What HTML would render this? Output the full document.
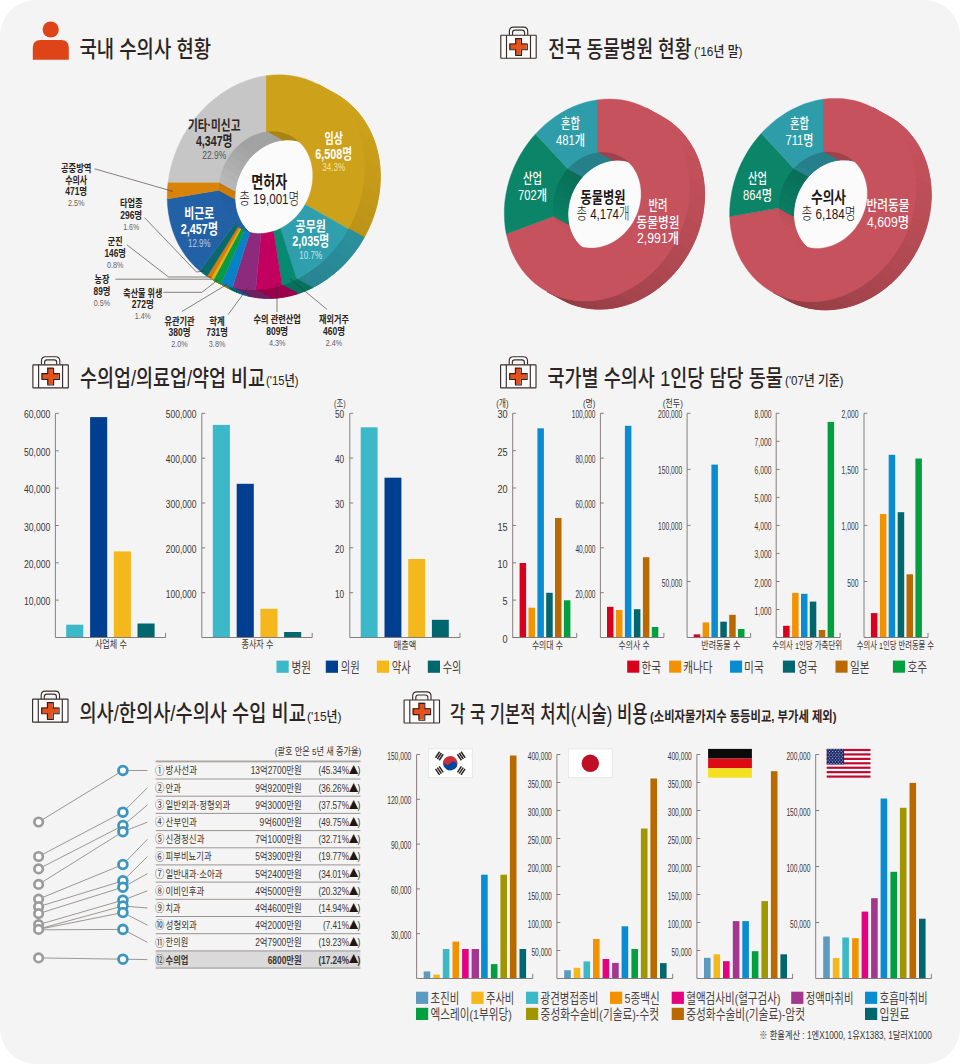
<!DOCTYPE html>
<html lang="ko"><head><meta charset="utf-8"><title>수의사 현황 인포그래픽</title>
<style>
html,body{margin:0;padding:0;background:#fff}
svg{display:block}
text{font-family:"Liberation Sans","Noto Sans CJK KR",sans-serif}
</style></head><body>
<svg width="960" height="1064" viewBox="0 0 960 1064">
<rect x="0" y="0" width="960" height="1064" rx="36" ry="36" fill="#f4f4f4"/>
<circle cx="50.7" cy="29.5" r="8.1" fill="#df4418"/>
<path d="M32.8,59.7 V47.5 Q32.8,40 40.3,40 H61.3 Q68.8,40 68.8,47.5 V59.7 Z" fill="#df4418"/>
<text x="79.5" y="56.8" font-size="22.3" font-weight="500" fill="#2b2422" text-anchor="start" textLength="131.5" lengthAdjust="spacingAndGlyphs">국내 수의사 현황</text>
<g transform="translate(500.2,34.6)" fill="none" stroke="#3a2e2b" stroke-width="1.15">
<path d="M9.2,0.6 V-3.4 Q9.2,-7.5 13.3,-7.5 H23.4 Q27.5,-7.5 27.5,-3.4 V0.6" fill="#fff"/>
<path d="M12.3,0.6 V-2.0 Q12.3,-4.4 14.7,-4.4 H22.0 Q24.4,-4.4 24.4,-2.0 V0.6" fill="#f3f3f3"/>
<rect x="0.6" y="0.6" width="35.4" height="23" rx="0.4" fill="#fcfcfc"/>
<path d="M6.3,0.6 V23.6 M30.3,0.6 V23.6"/>
<path d="M15.5,4.0 h5.8 v5.4 h5.8 v5.8 h-5.8 v5.6 h-5.8 v-5.6 h-5.8 v-5.8 h5.8 z" fill="#e8501a" stroke="none" transform="translate(-0.7,-0.6)"/>
<path d="M15.5,4.0 h5.8 v5.4 h5.8 v5.8 h-5.8 v5.6 h-5.8 v-5.6 h-5.8 v-5.8 h5.8 z" fill="none" stroke="#2a2022" stroke-width="1.1"/>
</g>
<text x="548.3" y="56.8" font-size="22.3" font-weight="500" fill="#2b2422" text-anchor="start" textLength="143.0" lengthAdjust="spacingAndGlyphs">전국 동물병원 현황</text>
<text x="694.0" y="55.8" font-size="13.6" font-weight="500" fill="#2b2422" text-anchor="start" textLength="48.5" lengthAdjust="spacingAndGlyphs">('16년 말)</text>
<g transform="translate(32.3,364.2)" fill="none" stroke="#3a2e2b" stroke-width="1.15">
<path d="M9.2,0.6 V-3.4 Q9.2,-7.5 13.3,-7.5 H23.4 Q27.5,-7.5 27.5,-3.4 V0.6" fill="#fff"/>
<path d="M12.3,0.6 V-2.0 Q12.3,-4.4 14.7,-4.4 H22.0 Q24.4,-4.4 24.4,-2.0 V0.6" fill="#f3f3f3"/>
<rect x="0.6" y="0.6" width="35.4" height="23" rx="0.4" fill="#fcfcfc"/>
<path d="M6.3,0.6 V23.6 M30.3,0.6 V23.6"/>
<path d="M15.5,4.0 h5.8 v5.4 h5.8 v5.8 h-5.8 v5.6 h-5.8 v-5.6 h-5.8 v-5.8 h5.8 z" fill="#e8501a" stroke="none" transform="translate(-0.7,-0.6)"/>
<path d="M15.5,4.0 h5.8 v5.4 h5.8 v5.8 h-5.8 v5.6 h-5.8 v-5.6 h-5.8 v-5.8 h5.8 z" fill="none" stroke="#2a2022" stroke-width="1.1"/>
</g>
<text x="80.0" y="385.9" font-size="22.3" font-weight="500" fill="#2b2422" text-anchor="start" textLength="185.0" lengthAdjust="spacingAndGlyphs">수의업/의료업/약업 비교</text>
<text x="266.0" y="385.2" font-size="13.6" font-weight="500" fill="#2b2422" text-anchor="start" textLength="32.5" lengthAdjust="spacingAndGlyphs">('15년)</text>
<g transform="translate(500.0,364.2)" fill="none" stroke="#3a2e2b" stroke-width="1.15">
<path d="M9.2,0.6 V-3.4 Q9.2,-7.5 13.3,-7.5 H23.4 Q27.5,-7.5 27.5,-3.4 V0.6" fill="#fff"/>
<path d="M12.3,0.6 V-2.0 Q12.3,-4.4 14.7,-4.4 H22.0 Q24.4,-4.4 24.4,-2.0 V0.6" fill="#f3f3f3"/>
<rect x="0.6" y="0.6" width="35.4" height="23" rx="0.4" fill="#fcfcfc"/>
<path d="M6.3,0.6 V23.6 M30.3,0.6 V23.6"/>
<path d="M15.5,4.0 h5.8 v5.4 h5.8 v5.8 h-5.8 v5.6 h-5.8 v-5.6 h-5.8 v-5.8 h5.8 z" fill="#e8501a" stroke="none" transform="translate(-0.7,-0.6)"/>
<path d="M15.5,4.0 h5.8 v5.4 h5.8 v5.8 h-5.8 v5.6 h-5.8 v-5.6 h-5.8 v-5.8 h5.8 z" fill="none" stroke="#2a2022" stroke-width="1.1"/>
</g>
<text x="547.4" y="386.2" font-size="22.3" font-weight="500" fill="#2b2422" text-anchor="start" textLength="235.5" lengthAdjust="spacingAndGlyphs">국가별 수의사 1인당 담당 동물</text>
<text x="785.0" y="385.2" font-size="13.6" font-weight="500" fill="#2b2422" text-anchor="start" textLength="58.5" lengthAdjust="spacingAndGlyphs">('07년 기준)</text>
<g transform="translate(32.0,698.6)" fill="none" stroke="#3a2e2b" stroke-width="1.15">
<path d="M9.2,0.6 V-3.4 Q9.2,-7.5 13.3,-7.5 H23.4 Q27.5,-7.5 27.5,-3.4 V0.6" fill="#fff"/>
<path d="M12.3,0.6 V-2.0 Q12.3,-4.4 14.7,-4.4 H22.0 Q24.4,-4.4 24.4,-2.0 V0.6" fill="#f3f3f3"/>
<rect x="0.6" y="0.6" width="35.4" height="23" rx="0.4" fill="#fcfcfc"/>
<path d="M6.3,0.6 V23.6 M30.3,0.6 V23.6"/>
<path d="M15.5,4.0 h5.8 v5.4 h5.8 v5.8 h-5.8 v5.6 h-5.8 v-5.6 h-5.8 v-5.8 h5.8 z" fill="#e8501a" stroke="none" transform="translate(-0.7,-0.6)"/>
<path d="M15.5,4.0 h5.8 v5.4 h5.8 v5.8 h-5.8 v5.6 h-5.8 v-5.6 h-5.8 v-5.8 h5.8 z" fill="none" stroke="#2a2022" stroke-width="1.1"/>
</g>
<text x="79.4" y="721.4" font-size="22.3" font-weight="500" fill="#2b2422" text-anchor="start" textLength="226.5" lengthAdjust="spacingAndGlyphs">의사/한의사/수의사 수입 비교</text>
<text x="307.0" y="720.7" font-size="13.6" font-weight="500" fill="#2b2422" text-anchor="start" textLength="34.5" lengthAdjust="spacingAndGlyphs">('15년)</text>
<g transform="translate(403.5,699.4)" fill="none" stroke="#3a2e2b" stroke-width="1.15">
<path d="M9.2,0.6 V-3.4 Q9.2,-7.5 13.3,-7.5 H23.4 Q27.5,-7.5 27.5,-3.4 V0.6" fill="#fff"/>
<path d="M12.3,0.6 V-2.0 Q12.3,-4.4 14.7,-4.4 H22.0 Q24.4,-4.4 24.4,-2.0 V0.6" fill="#f3f3f3"/>
<rect x="0.6" y="0.6" width="35.4" height="23" rx="0.4" fill="#fcfcfc"/>
<path d="M6.3,0.6 V23.6 M30.3,0.6 V23.6"/>
<path d="M15.5,4.0 h5.8 v5.4 h5.8 v5.8 h-5.8 v5.6 h-5.8 v-5.6 h-5.8 v-5.8 h5.8 z" fill="#e8501a" stroke="none" transform="translate(-0.7,-0.6)"/>
<path d="M15.5,4.0 h5.8 v5.4 h5.8 v5.8 h-5.8 v5.6 h-5.8 v-5.6 h-5.8 v-5.8 h5.8 z" fill="none" stroke="#2a2022" stroke-width="1.1"/>
</g>
<text x="450.0" y="721.8" font-size="22.3" font-weight="500" fill="#2b2422" text-anchor="start" textLength="197.5" lengthAdjust="spacingAndGlyphs">각 국 기본적 처치(시술) 비용</text>
<text x="650.0" y="721.2" font-size="13.4" font-weight="700" fill="#2b2422" text-anchor="start" textLength="186.5" lengthAdjust="spacingAndGlyphs">(소비자물가지수 동등비교, 부가세 제외)</text>
<g stroke-width="0.5" stroke-linejoin="round">
<path d="M291.1,135.9 L294.4,137.9 L297.6,140.3 L300.5,143.0 L303.1,146.0 L305.4,149.3 L307.5,152.8 L309.2,156.6 L310.6,160.6 L311.7,164.7 L312.4,168.9 L312.8,173.3 L312.8,177.7 L312.4,182.2 L311.7,186.6 L310.6,191.1 L309.2,195.4 L307.5,199.7 L305.5,203.8 L303.1,207.8 L300.5,211.5 L297.6,215.1 L294.5,218.4 L291.1,221.4 L287.6,224.1 L283.8,226.6 L280.0,228.6 L276.0,230.3 L272.0,231.7 L267.9,232.7 L263.8,233.3 L259.7,233.5 L255.7,233.3 L251.8,232.7 L247.9,231.8 L244.2,230.4 L240.6,228.7 L237.3,226.7 L234.1,224.3 L231.2,221.6 L228.6,218.6 L226.3,215.3 L224.2,211.8 L222.5,208.0 L221.1,204.0 L220.0,199.9 L219.3,195.7 L218.9,191.3 L218.9,186.9 L219.3,182.4 L220.0,178.0 L221.1,173.5 L222.5,169.2 L224.2,164.9 L226.2,160.8 L228.6,156.8 L231.2,153.1 L234.1,149.5 L237.2,146.2 L240.6,143.2 L244.1,140.5 L247.9,138.0 L251.7,136.0 L255.7,134.3 L259.7,132.9 L263.8,131.9 L267.9,131.3 L272.0,131.1 L276.0,131.3 L279.9,131.9 L283.8,132.8 L287.5,134.2Z" fill="#fbfbfb" stroke="none"/>
<path d="M318.8,84.8 L325.6,88.9 L331.9,93.6 L337.8,99.0 L343.2,104.9 L348.0,111.4 L352.3,118.4 L355.9,125.8 L359.0,133.7 L361.4,141.8 L363.1,150.3 L364.1,158.9 L364.5,167.7 L364.2,176.7 L363.2,185.6 L361.5,194.6 L359.1,203.4 L356.1,212.2 L352.5,220.7 L348.3,228.9 L364.1,237.5 L368.3,229.2 L372.0,220.7 L375.0,212.0 L377.3,203.2 L379.0,194.2 L380.0,185.3 L380.3,176.3 L380.0,167.5 L378.9,158.8 L377.2,150.4 L374.8,142.2 L371.7,134.4 L368.1,127.0 L363.8,120.0 L359.0,113.5 L353.6,107.6 L347.7,102.2 L341.4,97.4 L334.6,93.3Z" fill="#c99e19" stroke="#c99e19" stroke-width="0.8"/>
<path d="M318.8,84.8 L324.1,87.9 L329.2,91.5 L345.0,100.1 L340.0,96.5 L334.6,93.3Z" fill="#d0a41a" stroke="#d0a41a"/>
<path d="M329.2,91.5 L334.0,95.4 L338.5,99.8 L354.4,108.4 L349.9,104.0 L345.0,100.1Z" fill="#d0a31a" stroke="#d0a31a"/>
<path d="M338.5,99.8 L342.8,104.5 L346.6,109.5 L362.5,118.1 L358.6,113.0 L354.4,108.4Z" fill="#cfa21a" stroke="#cfa21a"/>
<path d="M346.6,109.5 L350.2,114.8 L353.3,120.4 L369.1,129.0 L366.0,123.4 L362.5,118.1Z" fill="#cda11a" stroke="#cda11a"/>
<path d="M353.3,120.4 L356.1,126.3 L358.5,132.4 L374.4,141.0 L371.9,134.9 L369.1,129.0Z" fill="#cca019" stroke="#cca019"/>
<path d="M358.5,132.4 L360.5,138.8 L362.1,145.3 L378.0,153.9 L376.4,147.3 L374.4,141.0Z" fill="#ca9e19" stroke="#ca9e19"/>
<path d="M362.1,145.3 L363.3,152.0 L364.1,158.8 L379.9,167.4 L379.2,160.5 L378.0,153.9Z" fill="#c89d19" stroke="#c89d19"/>
<path d="M364.1,158.8 L364.5,165.7 L364.4,172.7 L380.2,181.2 L380.3,174.3 L379.9,167.4Z" fill="#c69b19" stroke="#c69b19"/>
<path d="M364.4,172.7 L363.9,179.7 L363.0,186.7 L378.8,195.3 L379.7,188.3 L380.2,181.2Z" fill="#c49a18" stroke="#c49a18"/>
<path d="M363.0,186.7 L361.7,193.7 L359.9,200.7 L375.8,209.3 L377.5,202.3 L378.8,195.3Z" fill="#c19818" stroke="#c19818"/>
<path d="M359.9,200.7 L357.8,207.6 L355.3,214.4 L371.1,223.0 L373.6,216.2 L375.8,209.3Z" fill="#bf9618" stroke="#bf9618"/>
<path d="M355.3,214.4 L352.4,221.0 L349.1,227.5 L364.9,236.1 L368.2,229.6 L371.1,223.0Z" fill="#bc9417" stroke="#bc9417"/>
<path d="M349.1,227.5 L348.7,228.2 L348.3,228.9 L364.1,237.5 L364.5,236.8 L364.9,236.1Z" fill="#b99217" stroke="#b99217"/>
<path d="M348.3,228.9 L343.5,236.9 L338.1,244.5 L332.2,251.6 L325.8,258.3 L319.0,264.4 L311.8,269.9 L304.3,274.9 L296.6,279.1 L312.4,287.7 L320.2,283.4 L327.6,278.5 L334.8,273.0 L341.6,266.9 L348.0,260.2 L353.9,253.0 L359.3,245.5 L364.1,237.5Z" fill="#298b97" stroke="#298b97" stroke-width="0.8"/>
<path d="M348.3,228.9 L345.0,234.5 L341.4,239.8 L357.3,248.4 L360.8,243.0 L364.1,237.5Z" fill="#2a909c" stroke="#2a909c"/>
<path d="M341.4,239.8 L337.1,245.6 L332.5,251.2 L348.3,259.8 L353.0,254.2 L357.3,248.4Z" fill="#298e9a" stroke="#298e9a"/>
<path d="M332.5,251.2 L327.6,256.4 L322.5,261.4 L338.3,270.0 L343.5,265.0 L348.3,259.8Z" fill="#298b98" stroke="#298b98"/>
<path d="M322.5,261.4 L317.1,266.0 L311.4,270.2 L327.3,278.8 L332.9,274.6 L338.3,270.0Z" fill="#288995" stroke="#288995"/>
<path d="M311.4,270.2 L305.6,274.1 L299.6,277.5 L315.5,286.1 L321.4,282.7 L327.3,278.8Z" fill="#278692" stroke="#278692"/>
<path d="M299.6,277.5 L298.1,278.3 L296.6,279.1 L312.4,287.7 L313.9,286.9 L315.5,286.1Z" fill="#278490" stroke="#278490"/>
<path d="M296.6,279.1 L289.4,282.4 L282.0,285.1 L297.8,293.7 L305.2,291.0 L312.4,287.7Z" fill="#05725e" stroke="#05725e" stroke-width="0.8"/>
<path d="M296.6,279.1 L291.9,281.3 L287.2,283.2 L303.1,291.8 L307.8,289.9 L312.4,287.7Z" fill="#05725e" stroke="#05725e"/>
<path d="M287.2,283.2 L284.6,284.2 L282.0,285.1 L297.8,293.7 L300.5,292.8 L303.1,291.8Z" fill="#05705d" stroke="#05705d"/>
<path d="M282.0,285.1 L275.5,287.0 L268.9,288.4 L262.3,289.3 L255.7,289.8 L271.5,298.3 L278.1,297.9 L284.7,297.0 L291.3,295.5 L297.8,293.7Z" fill="#9a004c" stroke="#9a004c" stroke-width="0.8"/>
<path d="M282.0,285.1 L278.3,286.2 L274.5,287.2 L290.3,295.8 L294.1,294.8 L297.8,293.7Z" fill="#9d004e" stroke="#9d004e"/>
<path d="M274.5,287.2 L268.0,288.5 L261.6,289.4 L277.4,298.0 L283.9,297.1 L290.3,295.8Z" fill="#9a004c" stroke="#9a004c"/>
<path d="M261.6,289.4 L258.6,289.6 L255.7,289.8 L271.5,298.3 L274.5,298.2 L277.4,298.0Z" fill="#97004b" stroke="#97004b"/>
<path d="M255.7,289.8 L247.8,289.7 L240.1,288.9 L232.5,287.4 L248.3,296.0 L255.9,297.5 L263.7,298.3 L271.5,298.3Z" fill="#6c2060" stroke="#6c2060" stroke-width="0.8"/>
<path d="M255.7,289.8 L252.2,289.8 L248.8,289.7 L264.6,298.3 L268.0,298.4 L271.5,298.3Z" fill="#6e2062" stroke="#6e2062"/>
<path d="M248.8,289.7 L242.4,289.2 L236.2,288.2 L252.0,296.8 L258.3,297.8 L264.6,298.3Z" fill="#6b2060" stroke="#6b2060"/>
<path d="M236.2,288.2 L234.4,287.8 L232.5,287.4 L248.3,296.0 L250.2,296.4 L252.0,296.8Z" fill="#691f5e" stroke="#691f5e"/>
<path d="M232.5,287.4 L226.7,285.8 L221.1,283.7 L237.0,292.3 L242.6,294.4 L248.3,296.0Z" fill="#065f93" stroke="#065f93" stroke-width="0.8"/>
<path d="M232.5,287.4 L228.3,286.3 L224.2,284.9 L240.0,293.5 L244.1,294.9 L248.3,296.0Z" fill="#066094" stroke="#066094"/>
<path d="M224.2,284.9 L222.7,284.3 L221.1,283.7 L237.0,292.3 L238.5,292.9 L240.0,293.5Z" fill="#065e90" stroke="#065e90"/>
<path d="M221.1,283.7 L217.2,282.0 L213.4,280.1 L229.2,288.7 L233.1,290.6 L237.0,292.3Z" fill="#057032" stroke="#057032" stroke-width="0.8"/>
<path d="M221.1,283.7 L217.2,282.0 L213.4,280.1 L229.2,288.7 L233.1,290.6 L237.0,292.3Z" fill="#057032" stroke="#057032"/>
<path d="M213.4,280.1 L213.2,280.0 L212.9,279.8 L228.7,288.4 L229.0,288.6 L229.2,288.7Z" fill="#a28100" stroke="#a28100" stroke-width="0.8"/>
<path d="M213.4,280.1 L213.2,280.0 L212.9,279.8 L228.7,288.4 L229.0,288.6 L229.2,288.7Z" fill="#a48300" stroke="#a48300"/>
<path d="M265.9,131.6 L269.6,131.2 L273.4,131.1 L277.1,131.4 L280.8,132.1 L284.3,133.0 L287.8,134.3 L291.1,135.9 L306.9,144.5 L303.6,142.9 L300.2,141.6 L296.6,140.6 L293.0,140.0 L289.2,139.7 L285.5,139.8 L281.7,140.2Z" fill="#a88415" stroke="#a88415" stroke-width="0.8"/>
<path d="M265.9,131.6 L266.9,131.4 L267.9,131.3 L283.7,139.9 L282.7,140.0 L281.7,140.2Z" fill="#a88415" stroke="#a88415"/>
<path d="M267.9,131.3 L270.9,131.1 L274.0,131.2 L289.8,139.8 L286.8,139.7 L283.7,139.9Z" fill="#a88415" stroke="#a88415"/>
<path d="M274.0,131.2 L277.0,131.4 L279.9,131.9 L295.8,140.5 L292.8,140.0 L289.8,139.8Z" fill="#a88415" stroke="#a88415"/>
<path d="M279.9,131.9 L282.8,132.6 L285.7,133.5 L301.5,142.0 L298.7,141.2 L295.8,140.5Z" fill="#a88415" stroke="#a88415"/>
<path d="M285.7,133.5 L288.4,134.6 L291.1,135.9 L306.9,144.5 L304.2,143.1 L301.5,142.0Z" fill="#a88415" stroke="#a88415"/>
<path d="M240.6,228.7 L240.2,228.5 L239.7,228.2 L255.6,236.8 L256.0,237.1 L256.5,237.3Z" fill="#e2b400" stroke="#e2b400" stroke-width="0.8"/>
<path d="M240.6,228.7 L240.2,228.5 L239.7,228.2 L255.6,236.8 L256.0,237.1 L256.5,237.3Z" fill="#e2b400" stroke="#e2b400"/>
<path d="M239.7,228.2 L238.8,227.7 L237.9,227.1 L253.7,235.7 L254.6,236.3 L255.6,236.8Z" fill="#d57c0a" stroke="#d57c0a" stroke-width="0.8"/>
<path d="M239.7,228.2 L238.8,227.7 L237.9,227.1 L253.7,235.7 L254.6,236.3 L255.6,236.8Z" fill="#d57c0a" stroke="#d57c0a"/>
<path d="M237.9,227.1 L236.1,225.8 L234.3,224.4 L250.1,233.0 L251.9,234.4 L253.7,235.7Z" fill="#08696f" stroke="#08696f" stroke-width="0.8"/>
<path d="M237.9,227.1 L236.8,226.3 L235.7,225.5 L251.5,234.1 L252.6,234.9 L253.7,235.7Z" fill="#08696f" stroke="#08696f"/>
<path d="M235.7,225.5 L235.0,225.0 L234.3,224.4 L250.1,233.0 L250.8,233.6 L251.5,234.1Z" fill="#08696f" stroke="#08696f"/>
<path d="M234.3,224.4 L231.6,222.0 L229.1,219.2 L226.9,216.2 L224.9,213.0 L223.1,209.6 L221.7,205.9 L220.5,202.2 L219.7,198.3 L219.1,194.3 L218.9,190.2 L234.7,198.8 L235.0,202.9 L235.5,206.9 L236.4,210.8 L237.5,214.5 L239.0,218.1 L240.7,221.6 L242.7,224.8 L244.9,227.8 L247.4,230.5 L250.1,233.0Z" fill="#2361a7" stroke="#2361a7" stroke-width="0.8"/>
<path d="M234.3,224.4 L232.8,223.1 L231.2,221.6 L247.1,230.2 L248.6,231.6 L250.1,233.0Z" fill="#2361a7" stroke="#2361a7"/>
<path d="M231.2,221.6 L229.2,219.4 L227.4,217.0 L243.2,225.6 L245.1,227.9 L247.1,230.2Z" fill="#2361a7" stroke="#2361a7"/>
<path d="M227.4,217.0 L225.7,214.4 L224.2,211.8 L240.0,220.3 L241.5,223.0 L243.2,225.6Z" fill="#2361a7" stroke="#2361a7"/>
<path d="M224.2,211.8 L222.9,209.0 L221.7,206.0 L237.6,214.6 L238.7,217.5 L240.0,220.3Z" fill="#2361a7" stroke="#2361a7"/>
<path d="M221.7,206.0 L220.8,203.0 L220.0,199.9 L235.8,208.5 L236.6,211.6 L237.6,214.6Z" fill="#225fa5" stroke="#225fa5"/>
<path d="M220.0,199.9 L219.4,196.7 L219.1,193.5 L234.9,202.1 L235.3,205.3 L235.8,208.5Z" fill="#225ea2" stroke="#225ea2"/>
<path d="M219.1,193.5 L219.0,191.9 L218.9,190.2 L234.7,198.8 L234.8,200.5 L234.9,202.1Z" fill="#215c9f" stroke="#215c9f"/>
<path d="M218.9,190.2 L219.0,186.3 L219.3,182.3 L235.1,190.9 L234.8,194.9 L234.7,198.8Z" fill="#cd7b08" stroke="#cd7b08" stroke-width="0.8"/>
<path d="M218.9,190.2 L218.9,188.6 L218.9,186.9 L234.8,195.5 L234.7,197.1 L234.7,198.8Z" fill="#cf7d08" stroke="#cf7d08"/>
<path d="M218.9,186.9 L219.1,184.6 L219.3,182.3 L235.1,190.9 L234.9,193.2 L234.8,195.5Z" fill="#cb7a08" stroke="#cb7a08"/>
<path d="M219.3,182.3 L220.0,178.0 L221.0,173.7 L222.4,169.4 L224.0,165.3 L226.0,161.3 L228.2,157.4 L230.7,153.7 L233.5,150.2 L236.5,147.0 L239.7,144.0 L243.0,141.3 L246.6,138.8 L250.3,136.7 L254.1,134.9 L257.9,133.4 L261.9,132.3 L265.9,131.6 L281.7,140.2 L277.7,140.9 L273.8,142.0 L269.9,143.5 L266.1,145.3 L262.4,147.4 L258.9,149.9 L255.5,152.6 L252.3,155.6 L249.3,158.8 L246.5,162.3 L244.0,166.0 L241.8,169.9 L239.8,173.9 L238.2,178.0 L236.8,182.3 L235.8,186.5 L235.1,190.9Z" fill="#a7a7a7" stroke="#a7a7a7" stroke-width="0.8"/>
<path d="M219.3,182.3 L219.4,181.2 L219.6,180.2 L235.4,188.8 L235.3,189.8 L235.1,190.9Z" fill="#b9b9b9" stroke="#b9b9b9"/>
<path d="M219.6,180.2 L220.2,176.9 L221.1,173.5 L236.9,182.1 L236.1,185.4 L235.4,188.8Z" fill="#b6b6b6" stroke="#b6b6b6"/>
<path d="M221.1,173.5 L222.1,170.3 L223.3,167.0 L239.1,175.6 L237.9,178.9 L236.9,182.1Z" fill="#b3b3b3" stroke="#b3b3b3"/>
<path d="M223.3,167.0 L224.7,163.9 L226.2,160.8 L242.1,169.4 L240.5,172.5 L239.1,175.6Z" fill="#afafaf" stroke="#afafaf"/>
<path d="M226.2,160.8 L228.0,157.8 L229.9,154.9 L245.7,163.5 L243.8,166.4 L242.1,169.4Z" fill="#acacac" stroke="#acacac"/>
<path d="M229.9,154.9 L231.9,152.1 L234.1,149.5 L249.9,158.1 L247.7,160.7 L245.7,163.5Z" fill="#a9a9a9" stroke="#a9a9a9"/>
<path d="M234.1,149.5 L236.4,147.0 L238.9,144.7 L254.7,153.2 L252.3,155.6 L249.9,158.1Z" fill="#a5a5a5" stroke="#a5a5a5"/>
<path d="M238.9,144.7 L241.5,142.5 L244.1,140.5 L260.0,149.0 L257.3,151.1 L254.7,153.2Z" fill="#a2a2a2" stroke="#a2a2a2"/>
<path d="M244.1,140.5 L246.9,138.6 L249.8,137.0 L265.6,145.6 L262.7,147.2 L260.0,149.0Z" fill="#a2a2a2" stroke="#a2a2a2"/>
<path d="M249.8,137.0 L252.7,135.5 L255.7,134.3 L271.5,142.8 L268.5,144.1 L265.6,145.6Z" fill="#a2a2a2" stroke="#a2a2a2"/>
<path d="M255.7,134.3 L258.7,133.2 L261.7,132.4 L277.6,141.0 L274.5,141.8 L271.5,142.8Z" fill="#a2a2a2" stroke="#a2a2a2"/>
<path d="M261.7,132.4 L263.8,131.9 L265.9,131.6 L281.7,140.2 L279.6,140.5 L277.6,141.0Z" fill="#a2a2a2" stroke="#a2a2a2"/>
<path d="M265.9,75.7 L272.7,75.0 L279.5,74.8 L286.2,75.1 L292.9,75.9 L299.4,77.2 L305.8,79.1 L311.9,81.4 L317.9,84.2 L323.6,87.5 L329.0,91.3 L334.1,95.5 L338.8,100.1 L343.3,105.1 L347.3,110.5 L351.0,116.2 L354.2,122.2 L357.1,128.5 L359.5,135.1 L361.4,141.9 L362.9,149.0 L363.9,156.1 L364.4,163.4 L364.5,170.8 L364.1,178.3 L363.2,185.7 L361.8,193.2 L360.0,200.6 L357.7,207.9 L355.0,215.0 L351.9,222.1 L348.3,228.9 L305.1,204.5 L306.8,201.2 L308.3,197.9 L309.6,194.5 L310.7,191.0 L311.5,187.5 L312.2,183.9 L312.6,180.4 L312.8,176.8 L312.8,173.3 L312.5,169.8 L312.0,166.4 L311.3,163.1 L310.4,159.8 L309.3,156.7 L307.9,153.7 L306.4,150.8 L304.6,148.1 L302.7,145.5 L300.6,143.2 L298.3,141.0 L295.9,139.0 L293.3,137.2 L290.6,135.6 L287.8,134.3 L284.8,133.2 L281.8,132.3 L278.7,131.7 L275.6,131.3 L272.3,131.1 L269.1,131.2 L265.9,131.6Z" fill="#cda11a" stroke="#cda11a" stroke-width="0.4"/>
<path d="M348.3,228.9 L344.5,235.3 L340.3,241.5 L335.8,247.4 L330.9,253.0 L325.8,258.3 L320.4,263.2 L314.7,267.8 L308.9,272.0 L302.8,275.8 L296.6,279.1 L280.5,228.4 L283.4,226.8 L286.3,225.0 L289.1,223.0 L291.8,220.8 L294.4,218.5 L296.8,215.9 L299.1,213.3 L301.3,210.5 L303.3,207.5 L305.1,204.5Z" fill="#2f9fad" stroke="#2f9fad" stroke-width="0.4"/>
<path d="M296.6,279.1 L291.8,281.4 L286.9,283.4 L282.0,285.1 L273.5,231.2 L275.9,230.4 L278.2,229.5 L280.5,228.4Z" fill="#078a72" stroke="#078a72" stroke-width="0.4"/>
<path d="M282.0,285.1 L275.5,287.0 L268.9,288.4 L262.3,289.3 L255.7,289.8 L261.0,233.5 L264.2,233.2 L267.3,232.8 L270.4,232.1 L273.5,231.2Z" fill="#c10060" stroke="#c10060" stroke-width="0.4"/>
<path d="M255.7,289.8 L249.8,289.8 L243.9,289.4 L238.2,288.6 L232.5,287.4 L250.0,232.3 L252.7,232.9 L255.4,233.3 L258.2,233.4 L261.0,233.5Z" fill="#8d2a7e" stroke="#8d2a7e" stroke-width="0.4"/>
<path d="M232.5,287.4 L226.7,285.8 L221.1,283.7 L244.6,230.6 L247.2,231.6 L250.0,232.3Z" fill="#0981c6" stroke="#0981c6" stroke-width="0.4"/>
<path d="M221.1,283.7 L217.2,282.0 L213.4,280.1 L240.9,228.9 L242.7,229.8 L244.6,230.6Z" fill="#089a45" stroke="#089a45" stroke-width="0.4"/>
<path d="M213.4,280.1 L212.2,279.5 L211.0,278.8 L239.7,228.2 L240.3,228.6 L240.9,228.9Z" fill="#e2b400" stroke="#e2b400" stroke-width="0.4"/>
<path d="M211.0,278.8 L209.0,277.6 L207.1,276.4 L237.9,227.1 L238.8,227.7 L239.7,228.2Z" fill="#d57c0a" stroke="#d57c0a" stroke-width="0.4"/>
<path d="M207.1,276.4 L203.3,273.7 L199.6,270.8 L234.3,224.4 L236.1,225.8 L237.9,227.1Z" fill="#08696f" stroke="#08696f" stroke-width="0.4"/>
<path d="M199.6,270.8 L194.8,266.5 L190.4,261.8 L186.2,256.7 L182.5,251.3 L179.1,245.6 L176.1,239.6 L173.6,233.3 L171.4,226.7 L169.7,220.0 L168.4,213.1 L167.6,206.1 L167.2,198.9 L218.9,190.2 L219.1,193.6 L219.5,197.0 L220.1,200.3 L220.9,203.5 L221.9,206.6 L223.1,209.6 L224.6,212.4 L226.2,215.1 L228.0,217.7 L229.9,220.1 L232.0,222.4 L234.3,224.4Z" fill="#2361a7" stroke="#2361a7" stroke-width="0.4"/>
<path d="M167.2,198.9 L167.2,193.4 L167.5,187.8 L168.1,182.3 L219.3,182.3 L219.0,184.9 L218.9,187.6 L218.9,190.2Z" fill="#d98309" stroke="#d98309" stroke-width="0.4"/>
<path d="M168.1,182.3 L169.2,174.9 L170.8,167.6 L172.8,160.3 L175.3,153.2 L178.1,146.2 L181.4,139.3 L185.1,132.7 L189.2,126.3 L193.6,120.1 L198.4,114.3 L203.5,108.8 L208.8,103.6 L214.5,98.7 L220.4,94.3 L226.5,90.3 L232.7,86.7 L239.2,83.6 L245.7,80.9 L252.4,78.7 L259.1,77.0 L265.9,75.7 L265.9,131.6 L262.6,132.2 L259.4,133.0 L256.3,134.0 L253.2,135.3 L250.1,136.8 L247.1,138.5 L244.2,140.4 L241.4,142.5 L238.7,144.8 L236.2,147.3 L233.7,149.9 L231.5,152.7 L229.4,155.6 L227.4,158.7 L225.7,161.9 L224.1,165.1 L222.7,168.4 L221.6,171.8 L220.6,175.3 L219.8,178.8 L219.3,182.3Z" fill="#c6c6c6" stroke="#c6c6c6" stroke-width="0.4"/>
</g>
<g stroke-width="0.5" stroke-linejoin="round">
<path d="M620.7,156.4 L623.9,158.3 L626.8,160.6 L629.5,163.1 L632.0,166.0 L634.2,169.0 L636.1,172.4 L637.8,175.9 L639.1,179.6 L640.1,183.5 L640.8,187.5 L641.1,191.6 L641.1,195.7 L640.8,199.9 L640.1,204.1 L639.1,208.3 L637.8,212.4 L636.2,216.4 L634.2,220.3 L632.0,224.0 L629.6,227.5 L626.8,230.9 L623.9,234.0 L620.7,236.8 L617.4,239.4 L613.9,241.6 L610.3,243.6 L606.6,245.2 L602.8,246.5 L598.9,247.4 L595.1,248.0 L591.3,248.2 L587.5,248.0 L583.7,247.4 L580.1,246.5 L576.6,245.3 L573.3,243.7 L570.1,241.8 L567.2,239.5 L564.5,237.0 L562.0,234.1 L559.8,231.1 L557.9,227.7 L556.2,224.2 L554.9,220.5 L553.9,216.6 L553.2,212.6 L552.9,208.5 L552.9,204.4 L553.2,200.2 L553.9,196.0 L554.9,191.8 L556.2,187.7 L557.8,183.7 L559.8,179.8 L562.0,176.1 L564.4,172.6 L567.2,169.2 L570.1,166.1 L573.3,163.3 L576.6,160.7 L580.1,158.5 L583.7,156.5 L587.4,154.9 L591.2,153.6 L595.1,152.7 L598.9,152.1 L602.7,151.9 L606.5,152.1 L610.3,152.7 L613.9,153.6 L617.4,154.8Z" fill="#fbfbfb" stroke="none"/>
<path d="M646.8,108.4 L653.2,112.3 L659.3,116.9 L664.9,122.0 L670.0,127.7 L674.6,134.0 L678.6,140.7 L682.1,147.9 L684.9,155.4 L687.1,163.2 L688.6,171.4 L689.5,179.7 L689.7,188.1 L689.3,196.7 L688.2,205.3 L686.4,213.8 L684.0,222.3 L680.9,230.5 L677.3,238.6 L673.0,246.4 L668.3,253.8 L663.0,260.9 L657.2,267.5 L651.0,273.7 L644.4,279.3 L637.5,284.3 L630.3,288.7 L622.8,292.5 L615.2,295.6 L607.4,298.1 L599.6,299.8 L591.7,300.8 L583.9,301.1 L576.1,300.7 L568.5,299.5 L561.2,297.6 L554.0,295.0 L547.2,291.7 L562.1,299.8 L568.9,303.1 L576.0,305.7 L583.4,307.6 L591.0,308.7 L598.7,309.2 L606.5,308.9 L614.4,307.9 L622.3,306.1 L630.0,303.7 L637.7,300.6 L645.1,296.8 L652.4,292.4 L659.3,287.3 L665.9,281.7 L672.1,275.6 L677.8,269.0 L683.1,261.9 L687.9,254.4 L692.1,246.7 L695.8,238.6 L698.8,230.3 L701.2,221.9 L703.0,213.3 L704.1,204.8 L704.6,196.2 L704.4,187.7 L703.5,179.4 L701.9,171.3 L699.7,163.5 L696.9,155.9 L693.5,148.8 L689.4,142.1 L684.9,135.8 L679.7,130.1 L674.1,124.9 L668.1,120.4 L661.6,116.4Z" fill="#b44a54" stroke="#b44a54" stroke-width="0.8"/>
<path d="M646.8,108.4 L651.8,111.3 L656.6,114.7 L671.4,122.7 L666.6,119.4 L661.6,116.4Z" fill="#c8535d" stroke="#c8535d"/>
<path d="M656.6,114.7 L661.1,118.4 L665.3,122.5 L680.2,130.5 L675.9,126.5 L671.4,122.7Z" fill="#c8535d" stroke="#c8535d"/>
<path d="M665.3,122.5 L669.3,126.9 L672.9,131.6 L687.8,139.7 L684.1,134.9 L680.2,130.5Z" fill="#c6525c" stroke="#c6525c"/>
<path d="M672.9,131.6 L676.3,136.6 L679.2,141.9 L694.1,149.9 L691.1,144.7 L687.8,139.7Z" fill="#c5525c" stroke="#c5525c"/>
<path d="M679.2,141.9 L681.9,147.4 L684.1,153.2 L699.0,161.2 L696.7,155.5 L694.1,149.9Z" fill="#c4515b" stroke="#c4515b"/>
<path d="M684.1,153.2 L686.0,159.1 L687.5,165.2 L702.4,173.3 L700.9,167.2 L699.0,161.2Z" fill="#c2505a" stroke="#c2505a"/>
<path d="M687.5,165.2 L688.6,171.5 L689.4,177.9 L704.2,186.0 L703.5,179.6 L702.4,173.3Z" fill="#c05059" stroke="#c05059"/>
<path d="M689.4,177.9 L689.7,184.4 L689.6,191.0 L704.5,199.1 L704.6,192.5 L704.2,186.0Z" fill="#be4f59" stroke="#be4f59"/>
<path d="M689.6,191.0 L689.2,197.6 L688.3,204.2 L703.2,212.3 L704.0,205.7 L704.5,199.1Z" fill="#bc4e58" stroke="#bc4e58"/>
<path d="M688.3,204.2 L687.1,210.8 L685.5,217.3 L700.3,225.4 L701.9,218.9 L703.2,212.3Z" fill="#ba4d56" stroke="#ba4d56"/>
<path d="M685.5,217.3 L683.4,223.8 L681.1,230.2 L695.9,238.3 L698.3,231.9 L700.3,225.4Z" fill="#b74c55" stroke="#b74c55"/>
<path d="M681.1,230.2 L678.3,236.4 L675.2,242.5 L690.1,250.6 L693.2,244.5 L695.9,238.3Z" fill="#b54b54" stroke="#b54b54"/>
<path d="M675.2,242.5 L671.8,248.4 L668.1,254.1 L682.9,262.2 L686.7,256.5 L690.1,250.6Z" fill="#b24a53" stroke="#b24a53"/>
<path d="M668.1,254.1 L664.0,259.6 L659.7,264.8 L674.5,272.9 L678.9,267.7 L682.9,262.2Z" fill="#b04952" stroke="#b04952"/>
<path d="M659.7,264.8 L655.1,269.7 L650.2,274.4 L665.1,282.4 L669.9,277.8 L674.5,272.9Z" fill="#ad4850" stroke="#ad4850"/>
<path d="M650.2,274.4 L645.1,278.7 L639.9,282.7 L654.7,290.7 L660.0,286.8 L665.1,282.4Z" fill="#aa464f" stroke="#aa464f"/>
<path d="M639.9,282.7 L634.4,286.3 L628.8,289.6 L643.6,297.6 L649.2,294.4 L654.7,290.7Z" fill="#a7454e" stroke="#a7454e"/>
<path d="M628.8,289.6 L623.0,292.4 L617.1,294.9 L632.0,303.0 L637.8,300.5 L643.6,297.6Z" fill="#a4444c" stroke="#a4444c"/>
<path d="M617.1,294.9 L611.1,297.0 L605.1,298.7 L620.0,306.7 L626.0,305.1 L632.0,303.0Z" fill="#a0424b" stroke="#a0424b"/>
<path d="M605.1,298.7 L599.1,299.9 L593.0,300.7 L607.9,308.8 L613.9,308.0 L620.0,306.7Z" fill="#9d4149" stroke="#9d4149"/>
<path d="M593.0,300.7 L586.9,301.1 L580.9,301.0 L595.8,309.1 L601.8,309.1 L607.9,308.8Z" fill="#9a4048" stroke="#9a4048"/>
<path d="M580.9,301.0 L575.0,300.5 L569.2,299.6 L584.0,307.7 L589.9,308.6 L595.8,309.1Z" fill="#963e46" stroke="#963e46"/>
<path d="M569.2,299.6 L563.4,298.3 L557.9,296.5 L572.7,304.6 L578.3,306.3 L584.0,307.7Z" fill="#933d44" stroke="#933d44"/>
<path d="M557.9,296.5 L552.4,294.3 L547.2,291.7 L562.1,299.8 L567.3,302.4 L572.7,304.6Z" fill="#8f3b43" stroke="#8f3b43"/>
<path d="M597.0,152.4 L600.6,152.0 L604.1,152.0 L607.6,152.2 L611.0,152.8 L614.4,153.7 L617.6,154.9 L620.7,156.4 L635.6,164.5 L632.5,163.0 L629.2,161.8 L625.9,160.9 L622.5,160.3 L619.0,160.0 L615.4,160.1 L611.9,160.4Z" fill="#a1434b" stroke="#a1434b" stroke-width="0.8"/>
<path d="M597.0,152.4 L598.0,152.2 L598.9,152.1 L613.8,160.2 L612.8,160.3 L611.9,160.4Z" fill="#a1434b" stroke="#a1434b"/>
<path d="M598.9,152.1 L601.8,152.0 L604.6,152.0 L619.5,160.1 L616.6,160.0 L613.8,160.2Z" fill="#a1434b" stroke="#a1434b"/>
<path d="M604.6,152.0 L607.5,152.2 L610.3,152.7 L625.1,160.7 L622.3,160.3 L619.5,160.1Z" fill="#a1434b" stroke="#a1434b"/>
<path d="M610.3,152.7 L613.0,153.3 L615.6,154.1 L630.5,162.2 L627.8,161.4 L625.1,160.7Z" fill="#a1434b" stroke="#a1434b"/>
<path d="M615.6,154.1 L618.2,155.2 L620.7,156.4 L635.6,164.5 L633.1,163.2 L630.5,162.2Z" fill="#a1434b" stroke="#a1434b"/>
<path d="M573.3,243.7 L570.4,242.0 L567.7,240.0 L565.2,237.7 L562.9,235.2 L560.7,232.5 L558.9,229.6 L557.2,226.5 L555.8,223.2 L554.7,219.8 L553.8,216.2 L568.7,224.3 L569.5,227.8 L570.7,231.3 L572.1,234.5 L573.7,237.6 L575.6,240.5 L577.7,243.3 L580.0,245.8 L582.6,248.0 L585.3,250.0 L588.2,251.8Z" fill="#c5525c" stroke="#c5525c" stroke-width="0.8"/>
<path d="M573.3,243.7 L570.9,242.3 L568.6,240.7 L583.5,248.7 L585.8,250.3 L588.2,251.8Z" fill="#c5525c" stroke="#c5525c"/>
<path d="M568.6,240.7 L566.5,238.9 L564.5,237.0 L579.3,245.0 L581.3,247.0 L583.5,248.7Z" fill="#c5525c" stroke="#c5525c"/>
<path d="M564.5,237.0 L562.6,234.9 L560.9,232.6 L575.7,240.7 L577.4,242.9 L579.3,245.0Z" fill="#c5525c" stroke="#c5525c"/>
<path d="M560.9,232.6 L559.3,230.3 L557.9,227.7 L572.7,235.8 L574.1,238.3 L575.7,240.7Z" fill="#c5525c" stroke="#c5525c"/>
<path d="M557.9,227.7 L556.6,225.1 L555.5,222.4 L570.4,230.4 L571.5,233.2 L572.7,235.8Z" fill="#c5525c" stroke="#c5525c"/>
<path d="M555.5,222.4 L554.6,219.5 L553.9,216.6 L568.8,224.7 L569.5,227.6 L570.4,230.4Z" fill="#c2515a" stroke="#c2515a"/>
<path d="M553.9,216.6 L553.9,216.4 L553.8,216.2 L568.7,224.3 L568.7,224.5 L568.8,224.7Z" fill="#bf4f59" stroke="#bf4f59"/>
<path d="M553.8,216.2 L553.2,212.5 L552.9,208.7 L552.9,204.8 L553.2,200.9 L553.7,197.0 L554.6,193.1 L555.7,189.3 L557.1,185.5 L558.7,181.8 L560.6,178.3 L562.8,174.9 L565.2,171.6 L567.8,168.6 L582.6,176.6 L580.0,179.7 L577.6,182.9 L575.5,186.3 L573.6,189.9 L571.9,193.6 L570.5,197.3 L569.4,201.2 L568.6,205.1 L568.0,209.0 L567.7,212.9 L567.8,216.7 L568.1,220.6 L568.7,224.3Z" fill="#0a785e" stroke="#0a785e" stroke-width="0.8"/>
<path d="M553.8,216.2 L553.3,213.4 L553.0,210.6 L567.9,218.6 L568.2,221.5 L568.7,224.3Z" fill="#0a8065" stroke="#0a8065"/>
<path d="M553.0,210.6 L552.9,207.5 L552.9,204.4 L567.8,212.4 L567.7,215.6 L567.9,218.6Z" fill="#0a7e63" stroke="#0a7e63"/>
<path d="M552.9,204.4 L553.1,201.2 L553.5,198.1 L568.4,206.1 L568.0,209.3 L567.8,212.4Z" fill="#0a7b61" stroke="#0a7b61"/>
<path d="M553.5,198.1 L554.1,194.9 L554.9,191.8 L569.7,199.9 L569.0,203.0 L568.4,206.1Z" fill="#0a795f" stroke="#0a795f"/>
<path d="M554.9,191.8 L555.9,188.7 L557.0,185.7 L571.8,193.8 L570.7,196.8 L569.7,199.9Z" fill="#09775e" stroke="#09775e"/>
<path d="M557.0,185.7 L558.3,182.7 L559.8,179.8 L574.6,187.9 L573.1,190.8 L571.8,193.8Z" fill="#09755c" stroke="#09755c"/>
<path d="M559.8,179.8 L561.4,177.0 L563.2,174.3 L578.0,182.4 L576.2,185.1 L574.6,187.9Z" fill="#09735a" stroke="#09735a"/>
<path d="M563.2,174.3 L565.1,171.7 L567.2,169.2 L582.0,177.3 L580.0,179.8 L578.0,182.4Z" fill="#097058" stroke="#097058"/>
<path d="M567.2,169.2 L567.5,168.9 L567.8,168.6 L582.6,176.6 L582.3,177.0 L582.0,177.3Z" fill="#096e57" stroke="#096e57"/>
<path d="M567.8,168.6 L570.5,165.7 L573.4,163.1 L576.5,160.8 L579.7,158.7 L583.0,156.8 L586.5,155.3 L589.9,154.0 L593.5,153.0 L597.0,152.4 L611.9,160.4 L608.3,161.1 L604.8,162.1 L601.3,163.3 L597.9,164.9 L594.6,166.7 L591.4,168.8 L588.3,171.2 L585.4,173.8 L582.6,176.6Z" fill="#267f8a" stroke="#267f8a" stroke-width="0.8"/>
<path d="M567.8,168.6 L569.7,166.6 L571.7,164.7 L586.5,172.7 L584.5,174.6 L582.6,176.6Z" fill="#27828d" stroke="#27828d"/>
<path d="M571.7,164.7 L574.1,162.6 L576.6,160.7 L591.5,168.8 L588.9,170.7 L586.5,172.7Z" fill="#26808a" stroke="#26808a"/>
<path d="M576.6,160.7 L579.2,159.0 L581.9,157.4 L596.7,165.5 L594.1,167.1 L591.5,168.8Z" fill="#267f8a" stroke="#267f8a"/>
<path d="M581.9,157.4 L584.6,156.1 L587.4,154.9 L602.3,163.0 L599.5,164.1 L596.7,165.5Z" fill="#267f8a" stroke="#267f8a"/>
<path d="M587.4,154.9 L590.3,153.9 L593.1,153.1 L608.0,161.2 L605.1,162.0 L602.3,163.0Z" fill="#267f8a" stroke="#267f8a"/>
<path d="M593.1,153.1 L595.1,152.7 L597.0,152.4 L611.9,160.4 L609.9,160.8 L608.0,161.2Z" fill="#267f8a" stroke="#267f8a"/>
<path d="M597.0,99.9 L603.4,99.2 L609.8,99.0 L616.1,99.3 L622.4,100.0 L628.5,101.3 L634.4,103.0 L640.2,105.2 L645.8,107.8 L651.1,110.9 L656.2,114.4 L661.0,118.3 L665.5,122.6 L669.7,127.3 L673.5,132.4 L676.9,137.7 L680.0,143.4 L682.7,149.3 L684.9,155.5 L686.7,161.8 L688.1,168.4 L689.1,175.1 L689.6,182.0 L689.7,188.9 L689.3,195.9 L688.5,202.9 L687.3,209.9 L685.6,216.8 L683.5,223.7 L681.0,230.4 L678.1,237.0 L674.7,243.4 L671.1,249.6 L667.0,255.6 L662.6,261.3 L658.0,266.7 L653.0,271.8 L647.7,276.6 L642.2,281.0 L636.5,285.0 L630.6,288.5 L624.5,291.7 L618.4,294.4 L612.1,296.7 L605.7,298.5 L599.3,299.9 L592.9,300.7 L586.5,301.1 L580.1,301.0 L573.8,300.4 L567.7,299.3 L561.7,297.8 L555.8,295.7 L550.2,293.3 L544.7,290.3 L539.6,287.0 L534.7,283.2 L530.1,279.0 L525.8,274.5 L521.8,269.6 L518.3,264.3 L515.1,258.8 L512.2,252.9 L509.8,246.8 L507.9,240.5 L506.3,234.0 L553.8,216.2 L554.6,219.3 L555.5,222.3 L556.7,225.2 L558.0,228.0 L559.5,230.6 L561.2,233.1 L563.1,235.5 L565.1,237.6 L567.3,239.6 L569.7,241.4 L572.1,243.0 L574.7,244.4 L577.4,245.6 L580.2,246.6 L583.0,247.3 L586.0,247.8 L589.0,248.1 L592.0,248.1 L595.0,248.0 L598.1,247.6 L601.1,246.9 L604.2,246.1 L607.2,245.0 L610.1,243.7 L613.0,242.2 L615.8,240.5 L618.5,238.6 L621.1,236.5 L623.6,234.2 L626.0,231.8 L628.2,229.2 L630.3,226.5 L632.3,223.7 L634.0,220.7 L635.6,217.6 L637.0,214.5 L638.2,211.3 L639.2,208.0 L640.0,204.7 L640.6,201.4 L641.0,198.1 L641.1,194.7 L641.1,191.4 L640.8,188.2 L640.4,185.0 L639.7,181.9 L638.8,178.8 L637.8,175.9 L636.5,173.1 L635.0,170.4 L633.4,167.8 L631.6,165.4 L629.6,163.2 L627.5,161.2 L625.2,159.3 L622.8,157.6 L620.2,156.2 L617.6,154.9 L614.8,153.9 L612.0,153.0 L609.1,152.4 L606.1,152.1 L603.1,151.9 L600.1,152.0 L597.0,152.4Z" fill="#c5525c" stroke="#c5525c" stroke-width="0.4"/>
<path d="M506.3,234.0 L505.2,227.7 L504.6,221.2 L504.3,214.6 L504.4,208.0 L504.9,201.3 L505.9,194.7 L507.2,188.0 L508.9,181.4 L511.0,174.9 L513.5,168.5 L516.4,162.2 L519.6,156.1 L523.1,150.2 L527.0,144.5 L531.1,139.1 L535.6,133.9 L567.8,168.6 L565.6,171.0 L563.7,173.6 L561.8,176.3 L560.1,179.1 L558.6,182.0 L557.3,185.0 L556.1,188.1 L555.1,191.2 L554.3,194.3 L553.6,197.5 L553.2,200.7 L552.9,203.8 L552.9,207.0 L553.0,210.1 L553.3,213.2 L553.8,216.2Z" fill="#0b8468" stroke="#0b8468" stroke-width="0.4"/>
<path d="M535.6,133.9 L540.3,129.0 L545.2,124.4 L550.4,120.2 L555.8,116.3 L561.3,112.8 L567.0,109.6 L572.9,106.8 L578.8,104.5 L584.8,102.5 L590.9,101.0 L597.0,99.9 L597.0,152.4 L594.1,152.9 L591.2,153.6 L588.3,154.5 L585.5,155.7 L582.7,157.0 L580.0,158.5 L577.4,160.2 L574.8,162.0 L572.4,164.1 L570.0,166.2 L567.8,168.6Z" fill="#2f9ca9" stroke="#2f9ca9" stroke-width="0.4"/>
</g>
<g stroke-width="0.5" stroke-linejoin="round">
<path d="M846.8,156.1 L850.0,158.1 L853.0,160.3 L855.7,162.9 L858.2,165.7 L860.5,168.8 L862.4,172.2 L864.0,175.7 L865.4,179.5 L866.4,183.4 L867.0,187.4 L867.4,191.5 L867.4,195.7 L867.0,199.9 L866.4,204.1 L865.4,208.3 L864.0,212.5 L862.4,216.5 L860.5,220.4 L858.3,224.1 L855.8,227.7 L853.0,231.1 L850.1,234.2 L846.9,237.1 L843.5,239.6 L840.0,241.9 L836.4,243.9 L832.6,245.5 L828.8,246.8 L825.0,247.7 L821.1,248.3 L817.2,248.5 L813.4,248.3 L809.7,247.7 L806.0,246.8 L802.5,245.6 L799.2,244.0 L796.0,242.0 L793.0,239.8 L790.3,237.2 L787.8,234.4 L785.5,231.3 L783.6,227.9 L782.0,224.4 L780.6,220.6 L779.6,216.7 L779.0,212.7 L778.6,208.6 L778.6,204.4 L779.0,200.2 L779.6,196.0 L780.6,191.8 L782.0,187.6 L783.6,183.6 L785.5,179.7 L787.7,176.0 L790.2,172.4 L793.0,169.0 L795.9,165.9 L799.1,163.0 L802.5,160.5 L806.0,158.2 L809.6,156.2 L813.4,154.6 L817.2,153.3 L821.0,152.4 L824.9,151.8 L828.8,151.6 L832.6,151.8 L836.3,152.4 L840.0,153.3 L843.5,154.5Z" fill="#fbfbfb" stroke="none"/>
<path d="M873.1,107.8 L879.6,111.7 L885.7,116.3 L891.3,121.5 L896.5,127.3 L901.1,133.6 L905.1,140.3 L908.6,147.5 L911.4,155.1 L913.6,163.0 L915.2,171.2 L916.1,179.5 L916.3,188.1 L915.9,196.7 L914.7,205.3 L913.0,213.9 L910.5,222.4 L907.5,230.7 L903.8,238.8 L899.5,246.7 L894.7,254.2 L889.4,261.3 L883.6,267.9 L877.4,274.1 L870.7,279.8 L863.8,284.8 L856.5,289.3 L849.0,293.1 L841.3,296.3 L833.5,298.7 L825.6,300.4 L817.7,301.5 L809.8,301.7 L802.0,301.3 L794.4,300.1 L786.9,298.2 L779.8,295.6 L772.9,292.3 L787.8,300.4 L794.7,303.7 L801.9,306.3 L809.3,308.2 L816.9,309.4 L824.7,309.9 L832.6,309.6 L840.5,308.6 L848.4,306.8 L856.2,304.4 L863.9,301.2 L871.4,297.4 L878.7,292.9 L885.7,287.9 L892.3,282.2 L898.5,276.1 L904.3,269.4 L909.7,262.3 L914.5,254.8 L918.7,247.0 L922.4,238.8 L925.5,230.5 L927.9,222.0 L929.7,213.4 L930.8,204.8 L931.3,196.2 L931.0,187.7 L930.1,179.3 L928.6,171.1 L926.4,163.2 L923.5,155.6 L920.1,148.4 L916.0,141.7 L911.4,135.4 L906.3,129.6 L900.6,124.4 L894.5,119.8 L888.0,115.9Z" fill="#b44a54" stroke="#b44a54" stroke-width="0.8"/>
<path d="M873.1,107.8 L878.1,110.8 L883.0,114.1 L897.9,122.2 L893.1,118.9 L888.0,115.9Z" fill="#c8535d" stroke="#c8535d"/>
<path d="M883.0,114.1 L887.5,117.9 L891.8,122.0 L906.7,130.1 L902.4,126.0 L897.9,122.2Z" fill="#c8535d" stroke="#c8535d"/>
<path d="M891.8,122.0 L895.8,126.4 L899.4,131.2 L914.4,139.3 L910.7,134.5 L906.7,130.1Z" fill="#c6525c" stroke="#c6525c"/>
<path d="M899.4,131.2 L902.8,136.2 L905.8,141.5 L920.7,149.6 L917.7,144.3 L914.4,139.3Z" fill="#c5525c" stroke="#c5525c"/>
<path d="M905.8,141.5 L908.4,147.1 L910.7,152.9 L925.6,161.0 L923.3,155.2 L920.7,149.6Z" fill="#c4515b" stroke="#c4515b"/>
<path d="M910.7,152.9 L912.6,158.9 L914.1,165.0 L929.0,173.1 L927.5,167.0 L925.6,161.0Z" fill="#c2505a" stroke="#c2505a"/>
<path d="M914.1,165.0 L915.2,171.3 L916.0,177.8 L930.9,185.9 L930.2,179.5 L929.0,173.1Z" fill="#c05059" stroke="#c05059"/>
<path d="M916.0,177.8 L916.3,184.3 L916.2,190.9 L931.2,199.0 L931.2,192.4 L930.9,185.9Z" fill="#be4f59" stroke="#be4f59"/>
<path d="M916.2,190.9 L915.8,197.6 L914.9,204.2 L929.9,212.3 L930.7,205.7 L931.2,199.0Z" fill="#bc4e58" stroke="#bc4e58"/>
<path d="M914.9,204.2 L913.7,210.9 L912.0,217.5 L927.0,225.6 L928.6,219.0 L929.9,212.3Z" fill="#ba4d56" stroke="#ba4d56"/>
<path d="M912.0,217.5 L910.0,224.0 L907.6,230.4 L922.5,238.5 L924.9,232.1 L927.0,225.6Z" fill="#b74c55" stroke="#b74c55"/>
<path d="M907.6,230.4 L904.8,236.7 L901.7,242.8 L916.7,250.9 L919.8,244.8 L922.5,238.5Z" fill="#b54b54" stroke="#b54b54"/>
<path d="M901.7,242.8 L898.3,248.7 L894.5,254.5 L909.5,262.6 L913.2,256.9 L916.7,250.9Z" fill="#b24a53" stroke="#b24a53"/>
<path d="M894.5,254.5 L890.4,260.0 L886.1,265.2 L901.0,273.3 L905.4,268.1 L909.5,262.6Z" fill="#b04952" stroke="#b04952"/>
<path d="M886.1,265.2 L881.4,270.2 L876.6,274.9 L891.5,283.0 L896.4,278.3 L901.0,273.3Z" fill="#ad4850" stroke="#ad4850"/>
<path d="M876.6,274.9 L871.5,279.2 L866.1,283.2 L881.1,291.3 L886.4,287.3 L891.5,283.0Z" fill="#aa464f" stroke="#aa464f"/>
<path d="M866.1,283.2 L860.6,286.9 L855.0,290.1 L869.9,298.3 L875.6,295.0 L881.1,291.3Z" fill="#a7454e" stroke="#a7454e"/>
<path d="M855.0,290.1 L849.2,293.0 L843.2,295.5 L858.2,303.6 L864.1,301.1 L869.9,298.3Z" fill="#a4444c" stroke="#a4444c"/>
<path d="M843.2,295.5 L837.2,297.6 L831.2,299.3 L846.1,307.4 L852.2,305.7 L858.2,303.6Z" fill="#a0424b" stroke="#a0424b"/>
<path d="M831.2,299.3 L825.1,300.5 L819.0,301.3 L833.9,309.5 L840.0,308.6 L846.1,307.4Z" fill="#9d4149" stroke="#9d4149"/>
<path d="M819.0,301.3 L812.9,301.7 L806.8,301.7 L821.8,309.8 L827.8,309.8 L833.9,309.5Z" fill="#9a4048" stroke="#9a4048"/>
<path d="M806.8,301.7 L800.9,301.2 L795.0,300.3 L809.9,308.4 L815.8,309.3 L821.8,309.8Z" fill="#963e46" stroke="#963e46"/>
<path d="M795.0,300.3 L789.2,298.9 L783.6,297.1 L798.5,305.2 L804.2,307.0 L809.9,308.4Z" fill="#933d44" stroke="#933d44"/>
<path d="M783.6,297.1 L778.2,294.9 L772.9,292.3 L787.8,300.4 L793.1,303.0 L798.5,305.2Z" fill="#8f3b43" stroke="#8f3b43"/>
<path d="M823.0,152.1 L826.6,151.7 L830.2,151.7 L833.7,151.9 L837.1,152.5 L840.5,153.4 L843.7,154.6 L846.8,156.1 L861.8,164.2 L858.7,162.7 L855.4,161.5 L852.1,160.6 L848.6,160.0 L845.1,159.8 L841.5,159.8 L837.9,160.2Z" fill="#a1434b" stroke="#a1434b" stroke-width="0.8"/>
<path d="M823.0,152.1 L824.0,151.9 L824.9,151.8 L839.9,159.9 L838.9,160.1 L837.9,160.2Z" fill="#a1434b" stroke="#a1434b"/>
<path d="M824.9,151.8 L827.8,151.7 L830.7,151.7 L845.6,159.8 L842.8,159.8 L839.9,159.9Z" fill="#a1434b" stroke="#a1434b"/>
<path d="M830.7,151.7 L833.5,151.9 L836.3,152.4 L851.3,160.5 L848.5,160.0 L845.6,159.8Z" fill="#a1434b" stroke="#a1434b"/>
<path d="M836.3,152.4 L839.1,153.0 L841.8,153.8 L856.7,162.0 L854.0,161.1 L851.3,160.5Z" fill="#a1434b" stroke="#a1434b"/>
<path d="M841.8,153.8 L844.3,154.9 L846.8,156.1 L861.8,164.2 L859.3,163.0 L856.7,162.0Z" fill="#a1434b" stroke="#a1434b"/>
<path d="M799.2,244.0 L796.2,242.2 L793.4,240.1 L790.8,237.8 L788.4,235.2 L786.3,232.4 L784.4,229.3 L782.7,226.1 L781.3,222.7 L780.2,219.2 L779.4,215.5 L778.9,211.7 L778.6,207.9 L793.5,216.0 L793.8,219.8 L794.3,223.6 L795.2,227.3 L796.3,230.8 L797.7,234.2 L799.3,237.4 L801.2,240.5 L803.4,243.3 L805.8,245.9 L808.3,248.2 L811.1,250.3 L814.1,252.1Z" fill="#c5525c" stroke="#c5525c" stroke-width="0.8"/>
<path d="M799.2,244.0 L796.8,242.6 L794.5,240.9 L809.4,249.1 L811.7,250.7 L814.1,252.1Z" fill="#c5525c" stroke="#c5525c"/>
<path d="M794.5,240.9 L792.3,239.2 L790.3,237.2 L805.2,245.3 L807.2,247.3 L809.4,249.1Z" fill="#c5525c" stroke="#c5525c"/>
<path d="M790.3,237.2 L788.4,235.1 L786.6,232.8 L801.6,241.0 L803.3,243.2 L805.2,245.3Z" fill="#c5525c" stroke="#c5525c"/>
<path d="M786.6,232.8 L785.0,230.4 L783.6,227.9 L798.5,236.0 L800.0,238.6 L801.6,241.0Z" fill="#c5525c" stroke="#c5525c"/>
<path d="M783.6,227.9 L782.3,225.3 L781.3,222.5 L796.2,230.6 L797.3,233.4 L798.5,236.0Z" fill="#c5525c" stroke="#c5525c"/>
<path d="M781.3,222.5 L780.4,219.7 L779.6,216.7 L794.6,224.8 L795.3,227.8 L796.2,230.6Z" fill="#c2515a" stroke="#c2515a"/>
<path d="M779.6,216.7 L779.1,213.7 L778.7,210.6 L793.7,218.8 L794.0,221.8 L794.6,224.8Z" fill="#bf4f59" stroke="#bf4f59"/>
<path d="M778.7,210.6 L778.7,209.3 L778.6,207.9 L793.5,216.0 L793.6,217.4 L793.7,218.8Z" fill="#bc4e57" stroke="#bc4e57"/>
<path d="M778.6,207.9 L778.6,204.0 L779.0,200.2 L779.6,196.3 L780.4,192.5 L781.6,188.7 L783.0,185.0 L784.7,181.4 L786.6,177.9 L788.7,174.5 L791.1,171.3 L793.6,168.3 L808.6,176.4 L806.0,179.4 L803.6,182.6 L801.5,186.0 L799.6,189.5 L797.9,193.1 L796.5,196.8 L795.4,200.6 L794.5,204.4 L793.9,208.3 L793.6,212.2 L793.5,216.0Z" fill="#09765d" stroke="#09765d" stroke-width="0.8"/>
<path d="M778.6,207.9 L778.6,206.1 L778.6,204.4 L793.6,212.5 L793.5,214.3 L793.5,216.0Z" fill="#0a7e63" stroke="#0a7e63"/>
<path d="M778.6,204.4 L778.8,201.2 L779.3,198.1 L794.2,206.2 L793.8,209.3 L793.6,212.5Z" fill="#0a7b61" stroke="#0a7b61"/>
<path d="M779.3,198.1 L779.8,194.9 L780.6,191.8 L795.6,199.9 L794.8,203.0 L794.2,206.2Z" fill="#0a795f" stroke="#0a795f"/>
<path d="M780.6,191.8 L781.6,188.7 L782.7,185.6 L797.7,193.7 L796.5,196.8 L795.6,199.9Z" fill="#09775e" stroke="#09775e"/>
<path d="M782.7,185.6 L784.0,182.6 L785.5,179.7 L800.5,187.8 L799.0,190.7 L797.7,193.7Z" fill="#09755c" stroke="#09755c"/>
<path d="M785.5,179.7 L787.2,176.9 L789.0,174.1 L803.9,182.3 L802.1,185.0 L800.5,187.8Z" fill="#09735a" stroke="#09735a"/>
<path d="M789.0,174.1 L790.9,171.5 L793.0,169.0 L807.9,177.1 L805.8,179.6 L803.9,182.3Z" fill="#097058" stroke="#097058"/>
<path d="M793.0,169.0 L793.3,168.7 L793.6,168.3 L808.6,176.4 L808.2,176.8 L807.9,177.1Z" fill="#096e57" stroke="#096e57"/>
<path d="M793.6,168.3 L796.4,165.5 L799.3,162.9 L802.4,160.5 L805.6,158.4 L809.0,156.5 L812.4,155.0 L815.9,153.7 L819.4,152.7 L823.0,152.1 L837.9,160.2 L834.4,160.8 L830.8,161.8 L827.3,163.1 L823.9,164.7 L820.6,166.5 L817.4,168.6 L814.3,171.0 L811.3,173.6 L808.6,176.4Z" fill="#267f8a" stroke="#267f8a" stroke-width="0.8"/>
<path d="M793.6,168.3 L795.5,166.3 L797.5,164.4 L812.4,172.6 L810.5,174.4 L808.6,176.4Z" fill="#27828d" stroke="#27828d"/>
<path d="M797.5,164.4 L799.9,162.4 L802.5,160.5 L817.4,168.6 L814.9,170.5 L812.4,172.6Z" fill="#26808a" stroke="#26808a"/>
<path d="M802.5,160.5 L805.1,158.7 L807.8,157.2 L822.7,165.3 L820.0,166.8 L817.4,168.6Z" fill="#267f8a" stroke="#267f8a"/>
<path d="M807.8,157.2 L810.5,155.8 L813.4,154.6 L828.3,162.7 L825.5,163.9 L822.7,165.3Z" fill="#267f8a" stroke="#267f8a"/>
<path d="M813.4,154.6 L816.2,153.6 L819.1,152.8 L834.0,160.9 L831.2,161.7 L828.3,162.7Z" fill="#267f8a" stroke="#267f8a"/>
<path d="M819.1,152.8 L821.1,152.4 L823.0,152.1 L837.9,160.2 L836.0,160.5 L834.0,160.9Z" fill="#267f8a" stroke="#267f8a"/>
<path d="M823.0,99.2 L829.4,98.6 L835.8,98.4 L842.1,98.6 L848.4,99.4 L854.5,100.6 L860.5,102.3 L866.3,104.5 L871.9,107.1 L877.2,110.2 L882.3,113.7 L887.1,117.5 L891.6,121.8 L895.8,126.5 L899.7,131.5 L903.1,136.8 L906.2,142.5 L909.0,148.4 L911.2,154.5 L913.1,160.9 L914.6,167.4 L915.6,174.1 L916.2,181.0 L916.3,187.9 L916.0,194.9 L915.3,201.9 L914.1,208.9 L912.5,215.8 L910.4,222.7 L908.0,229.5 L905.1,236.1 L901.9,242.5 L898.2,248.8 L894.3,254.8 L890.0,260.6 L885.3,266.1 L880.4,271.2 L875.2,276.1 L869.7,280.5 L864.1,284.6 L858.2,288.3 L852.2,291.6 L846.0,294.4 L839.7,296.8 L833.4,298.7 L827.0,300.2 L820.5,301.2 L814.1,301.7 L807.8,301.7 L801.5,301.2 L795.3,300.3 L789.2,298.9 L783.3,297.0 L777.6,294.7 L772.1,291.9 L766.8,288.7 L761.8,285.0 L757.1,281.0 L752.7,276.5 L748.7,271.7 L745.0,266.6 L741.6,261.2 L738.7,255.4 L736.1,249.4 L734.0,243.2 L732.3,236.7 L731.0,230.1 L730.1,223.4 L729.7,216.5 L778.6,207.9 L778.8,211.1 L779.2,214.4 L779.8,217.5 L780.6,220.6 L781.6,223.5 L782.9,226.4 L784.3,229.1 L785.9,231.7 L787.6,234.2 L789.5,236.5 L791.6,238.6 L793.9,240.5 L796.3,242.2 L798.8,243.8 L801.4,245.1 L804.1,246.2 L806.9,247.1 L809.8,247.8 L812.7,248.2 L815.7,248.4 L818.8,248.4 L821.8,248.2 L824.9,247.7 L827.9,247.0 L831.0,246.1 L834.0,245.0 L836.9,243.6 L839.8,242.1 L842.6,240.3 L845.3,238.4 L847.8,236.2 L850.3,233.9 L852.7,231.5 L854.9,228.9 L856.9,226.1 L858.8,223.3 L860.5,220.3 L862.1,217.2 L863.4,214.0 L864.6,210.8 L865.6,207.6 L866.4,204.2 L866.9,200.9 L867.3,197.6 L867.4,194.3 L867.4,191.0 L867.1,187.7 L866.6,184.5 L865.9,181.4 L865.0,178.4 L863.9,175.5 L862.6,172.6 L861.2,170.0 L859.5,167.4 L857.7,165.0 L855.7,162.8 L853.5,160.8 L851.2,158.9 L848.8,157.3 L846.3,155.8 L843.6,154.6 L840.8,153.5 L838.0,152.7 L835.1,152.1 L832.1,151.8 L829.1,151.6 L826.1,151.7 L823.0,152.1Z" fill="#c5525c" stroke="#c5525c" stroke-width="0.4"/>
<path d="M729.7,216.5 L729.7,209.7 L730.2,202.8 L731.1,196.0 L732.4,189.1 L734.1,182.3 L736.2,175.6 L738.7,169.0 L741.6,162.5 L744.9,156.2 L748.5,150.1 L752.4,144.3 L756.7,138.7 L761.3,133.3 L793.6,168.3 L791.4,170.8 L789.4,173.5 L787.5,176.3 L785.8,179.2 L784.2,182.2 L782.9,185.3 L781.7,188.4 L780.7,191.6 L779.9,194.8 L779.2,198.1 L778.8,201.4 L778.6,204.6 L778.6,207.9Z" fill="#0b8468" stroke="#0b8468" stroke-width="0.4"/>
<path d="M761.3,133.3 L766.0,128.4 L771.0,123.9 L776.2,119.6 L781.6,115.7 L787.2,112.1 L792.9,109.0 L798.8,106.2 L804.7,103.8 L810.8,101.9 L816.9,100.3 L823.0,99.2 L823.0,152.1 L820.1,152.6 L817.2,153.3 L814.3,154.3 L811.5,155.4 L808.7,156.7 L805.9,158.2 L803.3,159.9 L800.7,161.8 L798.2,163.8 L795.9,166.0 L793.6,168.3Z" fill="#2f9ca9" stroke="#2f9ca9" stroke-width="0.4"/>
</g>
<text x="214.2" y="129.8" font-size="13.8" font-weight="700" fill="#2b2422" text-anchor="middle" textLength="52.5" lengthAdjust="spacingAndGlyphs">기타·미신고</text>
<text x="214.2" y="145.9" font-size="14.5" font-weight="700" fill="#2b2422" text-anchor="middle" textLength="36.5" lengthAdjust="spacingAndGlyphs">4,347명</text>
<text x="214.2" y="159.4" font-size="11.8" font-weight="400" fill="#555" text-anchor="middle" textLength="24.0" lengthAdjust="spacingAndGlyphs">22.9%</text>
<text x="333.7" y="143.1" font-size="13.8" font-weight="700" fill="#ffffff" text-anchor="middle" textLength="18.5" lengthAdjust="spacingAndGlyphs">임상</text>
<text x="333.7" y="158.6" font-size="14.5" font-weight="700" fill="#ffffff" text-anchor="middle" textLength="36.8" lengthAdjust="spacingAndGlyphs">6,508명</text>
<text x="333.7" y="170.7" font-size="11.8" font-weight="400" fill="#f4e3a1" text-anchor="middle" textLength="23.0" lengthAdjust="spacingAndGlyphs">34.3%</text>
<text x="199.3" y="218.3" font-size="13.8" font-weight="700" fill="#ffffff" text-anchor="middle" textLength="30.0" lengthAdjust="spacingAndGlyphs">비근로</text>
<text x="199.3" y="234.2" font-size="14.5" font-weight="700" fill="#ffffff" text-anchor="middle" textLength="37.2" lengthAdjust="spacingAndGlyphs">2,457명</text>
<text x="199.3" y="246.9" font-size="11.8" font-weight="400" fill="#b5cdea" text-anchor="middle" textLength="22.5" lengthAdjust="spacingAndGlyphs">12.9%</text>
<text x="310.7" y="230.6" font-size="13.8" font-weight="700" fill="#ffffff" text-anchor="middle" textLength="30.3" lengthAdjust="spacingAndGlyphs">공무원</text>
<text x="310.7" y="246.1" font-size="14.5" font-weight="700" fill="#ffffff" text-anchor="middle" textLength="36.8" lengthAdjust="spacingAndGlyphs">2,035명</text>
<text x="310.7" y="259.1" font-size="11.8" font-weight="400" fill="#c4e6ea" text-anchor="middle" textLength="22.8" lengthAdjust="spacingAndGlyphs">10.7%</text>
<text x="269.2" y="188.4" font-size="16.5" font-weight="700" fill="#1d1715" text-anchor="middle" textLength="36.0" lengthAdjust="spacingAndGlyphs">면허자</text>
<text x="269.2" y="203.7" font-size="15.5" font-weight="300" fill="#1d1715" text-anchor="middle" textLength="60.0" lengthAdjust="spacingAndGlyphs">총 19,001명</text>
<text x="76.2" y="172.3" font-size="10.6" font-weight="700" fill="#2b2422" text-anchor="middle" textLength="30.5" lengthAdjust="spacingAndGlyphs">공중방역</text>
<text x="76.2" y="183.7" font-size="10.6" font-weight="700" fill="#2b2422" text-anchor="middle" textLength="22.0" lengthAdjust="spacingAndGlyphs">수의사</text>
<text x="76.2" y="195.2" font-size="10.6" font-weight="700" fill="#2b2422" text-anchor="middle" textLength="22.0" lengthAdjust="spacingAndGlyphs">471명</text>
<text x="76.2" y="205.9" font-size="9.6" font-weight="400" fill="#686260" text-anchor="middle" textLength="16.5" lengthAdjust="spacingAndGlyphs">2.5%</text>
<text x="131.2" y="207.2" font-size="10.6" font-weight="700" fill="#2b2422" text-anchor="middle" textLength="22.5" lengthAdjust="spacingAndGlyphs">타업종</text>
<text x="131.2" y="218.8" font-size="10.6" font-weight="700" fill="#2b2422" text-anchor="middle" textLength="22.0" lengthAdjust="spacingAndGlyphs">296명</text>
<text x="131.2" y="229.7" font-size="9.6" font-weight="400" fill="#686260" text-anchor="middle" textLength="16.0" lengthAdjust="spacingAndGlyphs">1.6%</text>
<text x="115.2" y="245.1" font-size="10.6" font-weight="700" fill="#2b2422" text-anchor="middle" textLength="14.8" lengthAdjust="spacingAndGlyphs">군진</text>
<text x="115.2" y="256.7" font-size="10.6" font-weight="700" fill="#2b2422" text-anchor="middle" textLength="21.5" lengthAdjust="spacingAndGlyphs">146명</text>
<text x="115.2" y="267.6" font-size="9.6" font-weight="400" fill="#686260" text-anchor="middle" textLength="16.5" lengthAdjust="spacingAndGlyphs">0.8%</text>
<text x="102.0" y="283.3" font-size="10.6" font-weight="700" fill="#2b2422" text-anchor="middle" textLength="15.0" lengthAdjust="spacingAndGlyphs">농장</text>
<text x="102.0" y="294.9" font-size="10.6" font-weight="700" fill="#2b2422" text-anchor="middle" textLength="17.0" lengthAdjust="spacingAndGlyphs">89명</text>
<text x="102.0" y="305.8" font-size="9.6" font-weight="400" fill="#686260" text-anchor="middle" textLength="16.5" lengthAdjust="spacingAndGlyphs">0.5%</text>
<text x="142.8" y="296.5" font-size="10.6" font-weight="700" fill="#2b2422" text-anchor="middle" textLength="39.0" lengthAdjust="spacingAndGlyphs">축산물 위생</text>
<text x="142.8" y="308.1" font-size="10.6" font-weight="700" fill="#2b2422" text-anchor="middle" textLength="22.0" lengthAdjust="spacingAndGlyphs">272명</text>
<text x="142.8" y="319.0" font-size="9.6" font-weight="400" fill="#686260" text-anchor="middle" textLength="16.0" lengthAdjust="spacingAndGlyphs">1.4%</text>
<text x="179.5" y="324.8" font-size="10.6" font-weight="700" fill="#2b2422" text-anchor="middle" textLength="30.2" lengthAdjust="spacingAndGlyphs">유관기관</text>
<text x="179.5" y="336.4" font-size="10.6" font-weight="700" fill="#2b2422" text-anchor="middle" textLength="22.0" lengthAdjust="spacingAndGlyphs">380명</text>
<text x="179.5" y="347.3" font-size="9.6" font-weight="400" fill="#686260" text-anchor="middle" textLength="16.5" lengthAdjust="spacingAndGlyphs">2.0%</text>
<text x="217.1" y="324.6" font-size="10.6" font-weight="700" fill="#2b2422" text-anchor="middle" textLength="15.6" lengthAdjust="spacingAndGlyphs">학계</text>
<text x="217.1" y="336.2" font-size="10.6" font-weight="700" fill="#2b2422" text-anchor="middle" textLength="21.5" lengthAdjust="spacingAndGlyphs">731명</text>
<text x="217.1" y="347.1" font-size="9.6" font-weight="400" fill="#686260" text-anchor="middle" textLength="16.5" lengthAdjust="spacingAndGlyphs">3.8%</text>
<text x="277.2" y="323.1" font-size="10.6" font-weight="700" fill="#2b2422" text-anchor="middle" textLength="47.3" lengthAdjust="spacingAndGlyphs">수의 관련산업</text>
<text x="277.2" y="334.7" font-size="10.6" font-weight="700" fill="#2b2422" text-anchor="middle" textLength="22.0" lengthAdjust="spacingAndGlyphs">809명</text>
<text x="277.2" y="345.6" font-size="9.6" font-weight="400" fill="#686260" text-anchor="middle" textLength="16.5" lengthAdjust="spacingAndGlyphs">4.3%</text>
<text x="334.0" y="323.1" font-size="10.6" font-weight="700" fill="#2b2422" text-anchor="middle" textLength="29.8" lengthAdjust="spacingAndGlyphs">재외거주</text>
<text x="334.0" y="334.7" font-size="10.6" font-weight="700" fill="#2b2422" text-anchor="middle" textLength="22.0" lengthAdjust="spacingAndGlyphs">460명</text>
<text x="334.0" y="345.6" font-size="9.6" font-weight="400" fill="#686260" text-anchor="middle" textLength="16.5" lengthAdjust="spacingAndGlyphs">2.4%</text>
<g fill="none" stroke="#3a302d" stroke-width="0.6">
<path d="M94.6,168.8 L172.7,191.3"/>
<path d="M144.6,217.7 L196.5,272 L204,271"/>
<path d="M126.9,244.8 L168.5,277 H211.3"/>
<path d="M115.4,279.2 H213.3"/>
<path d="M163.3,292.3 H201.9 L217.5,280.2"/>
<path d="M182,311.5 L226.9,284.4"/>
<path d="M228.1,314.6 L248.3,287.1"/>
<path d="M277,312 V283.3"/>
<path d="M327,309.4 L290,278.8"/>
</g>
<text x="570.5" y="128.3" font-size="13.8" font-weight="500" fill="#ffffff" text-anchor="middle" textLength="19.0" lengthAdjust="spacingAndGlyphs">혼합</text>
<text x="570.5" y="145.3" font-size="13.8" font-weight="500" fill="#ffffff" text-anchor="middle" textLength="29.0" lengthAdjust="spacingAndGlyphs">481개</text>
<text x="532.5" y="183.3" font-size="13.8" font-weight="500" fill="#ffffff" text-anchor="middle" textLength="19.0" lengthAdjust="spacingAndGlyphs">산업</text>
<text x="532.5" y="199.8" font-size="13.8" font-weight="500" fill="#ffffff" text-anchor="middle" textLength="29.0" lengthAdjust="spacingAndGlyphs">702개</text>
<text x="603.0" y="202.5" font-size="15.5" font-weight="700" fill="#1d1715" text-anchor="middle" textLength="45.0" lengthAdjust="spacingAndGlyphs">동물병원</text>
<text x="603.0" y="219.0" font-size="15.5" font-weight="300" fill="#1d1715" text-anchor="middle" textLength="53.0" lengthAdjust="spacingAndGlyphs">총 4,174개</text>
<text x="658.0" y="210.3" font-size="13.8" font-weight="500" fill="#ffffff" text-anchor="middle" textLength="19.0" lengthAdjust="spacingAndGlyphs">반려</text>
<text x="658.0" y="226.8" font-size="13.8" font-weight="500" fill="#ffffff" text-anchor="middle" textLength="43.0" lengthAdjust="spacingAndGlyphs">동물병원</text>
<text x="658.0" y="242.8" font-size="13.8" font-weight="500" fill="#ffffff" text-anchor="middle" textLength="42.0" lengthAdjust="spacingAndGlyphs">2,991개</text>
<text x="799.5" y="128.3" font-size="13.8" font-weight="500" fill="#ffffff" text-anchor="middle" textLength="19.0" lengthAdjust="spacingAndGlyphs">혼합</text>
<text x="799.5" y="145.3" font-size="13.8" font-weight="500" fill="#ffffff" text-anchor="middle" textLength="28.0" lengthAdjust="spacingAndGlyphs">711명</text>
<text x="757.5" y="183.3" font-size="13.8" font-weight="500" fill="#ffffff" text-anchor="middle" textLength="19.0" lengthAdjust="spacingAndGlyphs">산업</text>
<text x="757.5" y="199.8" font-size="13.8" font-weight="500" fill="#ffffff" text-anchor="middle" textLength="29.0" lengthAdjust="spacingAndGlyphs">864명</text>
<text x="828.5" y="202.5" font-size="15.5" font-weight="700" fill="#1d1715" text-anchor="middle" textLength="35.0" lengthAdjust="spacingAndGlyphs">수의사</text>
<text x="828.5" y="219.0" font-size="15.5" font-weight="300" fill="#1d1715" text-anchor="middle" textLength="54.0" lengthAdjust="spacingAndGlyphs">총 6,184명</text>
<text x="888.0" y="210.3" font-size="13.8" font-weight="500" fill="#ffffff" text-anchor="middle" textLength="43.0" lengthAdjust="spacingAndGlyphs">반려동물</text>
<text x="888.0" y="226.8" font-size="13.8" font-weight="500" fill="#ffffff" text-anchor="middle" textLength="42.0" lengthAdjust="spacingAndGlyphs">4,609명</text>
<rect x="66.2" y="624.7" width="17.1" height="12.8" fill="#3cb9c8"/>
<rect x="90.1" y="417.1" width="17.1" height="220.4" fill="#003f8f"/>
<rect x="113.8" y="551.4" width="17.1" height="86.1" fill="#f5b81c"/>
<rect x="137.5" y="623.5" width="17.1" height="14.0" fill="#00676f"/>
<path d="M58.8,413.4 H55.4 V637.5 H165.6 v-4.6 M55.4,450.8 h3.4 M55.4,488.1 h3.4 M55.4,525.5 h3.4 M55.4,562.8 h3.4 M55.4,600.1 h3.4" fill="none" stroke="#7a7270" stroke-width="0.9"/>
<text x="50.3" y="418.4" font-size="11.0" font-weight="400" fill="#3d3533" text-anchor="end" textLength="26.4" lengthAdjust="spacingAndGlyphs">60,000</text>
<text x="50.3" y="455.8" font-size="11.0" font-weight="400" fill="#3d3533" text-anchor="end" textLength="26.4" lengthAdjust="spacingAndGlyphs">50,000</text>
<text x="50.3" y="493.1" font-size="11.0" font-weight="400" fill="#3d3533" text-anchor="end" textLength="26.4" lengthAdjust="spacingAndGlyphs">40,000</text>
<text x="50.3" y="530.5" font-size="11.0" font-weight="400" fill="#3d3533" text-anchor="end" textLength="26.4" lengthAdjust="spacingAndGlyphs">30,000</text>
<text x="50.3" y="567.8" font-size="11.0" font-weight="400" fill="#3d3533" text-anchor="end" textLength="26.4" lengthAdjust="spacingAndGlyphs">20,000</text>
<text x="50.3" y="605.2" font-size="11.0" font-weight="400" fill="#3d3533" text-anchor="end" textLength="26.4" lengthAdjust="spacingAndGlyphs">10,000</text>
<text x="110.9" y="648.3" font-size="9.8" font-weight="400" fill="#3d3533" text-anchor="middle" textLength="32.0" lengthAdjust="spacingAndGlyphs">사업체 수</text>
<rect x="212.8" y="424.9" width="17.1" height="212.6" fill="#3cb9c8"/>
<rect x="236.7" y="483.8" width="17.1" height="153.7" fill="#003f8f"/>
<rect x="260.4" y="608.8" width="17.1" height="28.7" fill="#f5b81c"/>
<rect x="284.1" y="632.0" width="17.1" height="5.5" fill="#00676f"/>
<path d="M205.2,413.4 H201.8 V637.5 H312.2 v-4.6 M201.8,458.2 h3.4 M201.8,503.0 h3.4 M201.8,547.9 h3.4 M201.8,592.7 h3.4" fill="none" stroke="#7a7270" stroke-width="0.9"/>
<text x="196.4" y="418.4" font-size="11.0" font-weight="400" fill="#3d3533" text-anchor="end" textLength="30.6" lengthAdjust="spacingAndGlyphs">500,000</text>
<text x="196.4" y="463.2" font-size="11.0" font-weight="400" fill="#3d3533" text-anchor="end" textLength="30.6" lengthAdjust="spacingAndGlyphs">400,000</text>
<text x="196.4" y="508.0" font-size="11.0" font-weight="400" fill="#3d3533" text-anchor="end" textLength="30.6" lengthAdjust="spacingAndGlyphs">300,000</text>
<text x="196.4" y="552.9" font-size="11.0" font-weight="400" fill="#3d3533" text-anchor="end" textLength="30.6" lengthAdjust="spacingAndGlyphs">200,000</text>
<text x="196.4" y="597.7" font-size="11.0" font-weight="400" fill="#3d3533" text-anchor="end" textLength="30.6" lengthAdjust="spacingAndGlyphs">100,000</text>
<text x="257.5" y="648.3" font-size="9.8" font-weight="400" fill="#3d3533" text-anchor="middle" textLength="32.0" lengthAdjust="spacingAndGlyphs">종사자 수</text>
<rect x="360.7" y="427.3" width="16.9" height="210.2" fill="#3cb9c8"/>
<rect x="384.5" y="477.7" width="16.9" height="159.8" fill="#003f8f"/>
<rect x="408.2" y="559.0" width="16.9" height="78.5" fill="#f5b81c"/>
<rect x="431.9" y="619.8" width="16.9" height="17.7" fill="#00676f"/>
<path d="M353.2,413.3 H349.8 V637.5 H460.0 v-4.6 M349.8,458.1 h3.4 M349.8,503.0 h3.4 M349.8,547.8 h3.4 M349.8,592.7 h3.4" fill="none" stroke="#7a7270" stroke-width="0.9"/>
<text x="344.1" y="418.3" font-size="11.0" font-weight="400" fill="#3d3533" text-anchor="end" textLength="9.2" lengthAdjust="spacingAndGlyphs">50</text>
<text x="344.1" y="463.1" font-size="11.0" font-weight="400" fill="#3d3533" text-anchor="end" textLength="9.2" lengthAdjust="spacingAndGlyphs">40</text>
<text x="344.1" y="508.0" font-size="11.0" font-weight="400" fill="#3d3533" text-anchor="end" textLength="9.2" lengthAdjust="spacingAndGlyphs">30</text>
<text x="344.1" y="552.8" font-size="11.0" font-weight="400" fill="#3d3533" text-anchor="end" textLength="9.2" lengthAdjust="spacingAndGlyphs">20</text>
<text x="344.1" y="597.7" font-size="11.0" font-weight="400" fill="#3d3533" text-anchor="end" textLength="9.2" lengthAdjust="spacingAndGlyphs">10</text>
<text x="404.9" y="648.5" font-size="9.8" font-weight="400" fill="#3d3533" text-anchor="middle" textLength="22.5" lengthAdjust="spacingAndGlyphs">매출액</text>
<text x="339.8" y="407.1" font-size="9.8" font-weight="400" fill="#3d3533" text-anchor="middle" textLength="11.5" lengthAdjust="spacingAndGlyphs">(조)</text>
<rect x="276.5" y="660.6" width="12.2" height="12.2" fill="#3cb9c8"/>
<text x="291.5" y="671.7" font-size="13.4" font-weight="400" fill="#4a4341" text-anchor="start" textLength="19.5" lengthAdjust="spacingAndGlyphs">병원</text>
<rect x="325.8" y="660.6" width="12.2" height="12.2" fill="#003f8f"/>
<text x="340.8" y="671.7" font-size="13.4" font-weight="400" fill="#4a4341" text-anchor="start" textLength="19.0" lengthAdjust="spacingAndGlyphs">의원</text>
<rect x="376.8" y="660.6" width="12.2" height="12.2" fill="#f5b81c"/>
<text x="391.8" y="671.7" font-size="13.4" font-weight="400" fill="#4a4341" text-anchor="start" textLength="19.0" lengthAdjust="spacingAndGlyphs">약사</text>
<rect x="427.8" y="660.6" width="12.2" height="12.2" fill="#00676f"/>
<text x="442.8" y="671.7" font-size="13.4" font-weight="400" fill="#4a4341" text-anchor="start" textLength="18.6" lengthAdjust="spacingAndGlyphs">수의</text>
<rect x="519.6" y="563.0" width="6.5" height="74.5" fill="#d7001d"/>
<rect x="528.5" y="607.7" width="6.5" height="29.8" fill="#f39200"/>
<rect x="537.4" y="428.3" width="6.5" height="209.2" fill="#0a8cd2"/>
<rect x="546.2" y="592.8" width="6.5" height="44.7" fill="#00676f"/>
<rect x="555.0" y="518.0" width="6.5" height="119.5" fill="#b86a00"/>
<rect x="563.9" y="600.3" width="6.5" height="37.2" fill="#00a040"/>
<path d="M516.1,413.3 H512.7 V637.5 H576.7 v-4.6 M512.7,450.7 h3.4 M512.7,488.0 h3.4 M512.7,525.4 h3.4 M512.7,562.8 h3.4 M512.7,600.1 h3.4 M512.7,637.5 h3.4" fill="none" stroke="#7a7270" stroke-width="0.9"/>
<text x="507.6" y="418.4" font-size="11.4" font-weight="400" fill="#3d3533" text-anchor="end" textLength="10.2" lengthAdjust="spacingAndGlyphs">30</text>
<text x="507.6" y="455.8" font-size="11.4" font-weight="400" fill="#3d3533" text-anchor="end" textLength="10.2" lengthAdjust="spacingAndGlyphs">25</text>
<text x="507.6" y="493.2" font-size="11.4" font-weight="400" fill="#3d3533" text-anchor="end" textLength="10.2" lengthAdjust="spacingAndGlyphs">20</text>
<text x="507.6" y="530.5" font-size="11.4" font-weight="400" fill="#3d3533" text-anchor="end" textLength="10.2" lengthAdjust="spacingAndGlyphs">15</text>
<text x="507.6" y="567.9" font-size="11.4" font-weight="400" fill="#3d3533" text-anchor="end" textLength="10.2" lengthAdjust="spacingAndGlyphs">10</text>
<text x="507.6" y="605.3" font-size="11.4" font-weight="400" fill="#3d3533" text-anchor="end" textLength="5.1" lengthAdjust="spacingAndGlyphs">5</text>
<text x="507.6" y="642.6" font-size="11.4" font-weight="400" fill="#3d3533" text-anchor="end" textLength="5.1" lengthAdjust="spacingAndGlyphs">0</text>
<text x="547.4" y="649.3" font-size="9.8" font-weight="400" fill="#3d3533" text-anchor="middle" textLength="31.0" lengthAdjust="spacingAndGlyphs">수의대 수</text>
<text x="502.5" y="406.8" font-size="9.8" font-weight="400" fill="#3d3533" text-anchor="middle" textLength="12.5" lengthAdjust="spacingAndGlyphs">(개)</text>
<rect x="607.0" y="606.8" width="6.5" height="30.7" fill="#d7001d"/>
<rect x="616.0" y="610.0" width="6.5" height="27.5" fill="#f39200"/>
<rect x="624.9" y="425.8" width="6.5" height="211.7" fill="#0a8cd2"/>
<rect x="633.9" y="609.2" width="6.5" height="28.3" fill="#00676f"/>
<rect x="642.9" y="557.2" width="6.5" height="80.3" fill="#b86a00"/>
<rect x="651.8" y="627.0" width="6.5" height="10.5" fill="#00a040"/>
<path d="M603.8,413.3 H600.4 V637.5 H663.9 v-4.6 M600.4,458.1 h3.4 M600.4,503.0 h3.4 M600.4,547.8 h3.4 M600.4,592.7 h3.4" fill="none" stroke="#7a7270" stroke-width="0.9"/>
<text x="595.5" y="418.3" font-size="11.0" font-weight="400" fill="#3d3533" text-anchor="end" textLength="23.7" lengthAdjust="spacingAndGlyphs">100,000</text>
<text x="595.5" y="463.1" font-size="11.0" font-weight="400" fill="#3d3533" text-anchor="end" textLength="20.1" lengthAdjust="spacingAndGlyphs">80,000</text>
<text x="595.5" y="508.0" font-size="11.0" font-weight="400" fill="#3d3533" text-anchor="end" textLength="20.1" lengthAdjust="spacingAndGlyphs">60,000</text>
<text x="595.5" y="552.8" font-size="11.0" font-weight="400" fill="#3d3533" text-anchor="end" textLength="20.1" lengthAdjust="spacingAndGlyphs">40,000</text>
<text x="595.5" y="597.7" font-size="11.0" font-weight="400" fill="#3d3533" text-anchor="end" textLength="20.1" lengthAdjust="spacingAndGlyphs">20,000</text>
<text x="634.1" y="649.3" font-size="9.8" font-weight="400" fill="#3d3533" text-anchor="middle" textLength="31.0" lengthAdjust="spacingAndGlyphs">수의사 수</text>
<text x="589.2" y="406.8" font-size="9.8" font-weight="400" fill="#3d3533" text-anchor="middle" textLength="12.5" lengthAdjust="spacingAndGlyphs">(명)</text>
<rect x="693.7" y="634.4" width="6.5" height="3.1" fill="#d7001d"/>
<rect x="702.6" y="622.4" width="6.5" height="15.1" fill="#f39200"/>
<rect x="711.4" y="464.6" width="6.5" height="172.9" fill="#0a8cd2"/>
<rect x="720.3" y="621.7" width="6.5" height="15.8" fill="#00676f"/>
<rect x="729.2" y="614.8" width="6.5" height="22.7" fill="#b86a00"/>
<rect x="738.0" y="629.0" width="6.5" height="8.5" fill="#00a040"/>
<path d="M690.5,413.3 H687.1 V637.5 H750.6 v-4.6 M687.1,469.4 h3.4 M687.1,525.4 h3.4 M687.1,581.5 h3.4" fill="none" stroke="#7a7270" stroke-width="0.9"/>
<text x="682.2" y="418.3" font-size="11.0" font-weight="400" fill="#3d3533" text-anchor="end" textLength="24.1" lengthAdjust="spacingAndGlyphs">200,000</text>
<text x="682.2" y="474.4" font-size="11.0" font-weight="400" fill="#3d3533" text-anchor="end" textLength="24.1" lengthAdjust="spacingAndGlyphs">150,000</text>
<text x="682.2" y="530.4" font-size="11.0" font-weight="400" fill="#3d3533" text-anchor="end" textLength="24.1" lengthAdjust="spacingAndGlyphs">100,000</text>
<text x="682.2" y="586.5" font-size="11.0" font-weight="400" fill="#3d3533" text-anchor="end" textLength="20.4" lengthAdjust="spacingAndGlyphs">50,000</text>
<text x="720.8" y="649.3" font-size="9.8" font-weight="400" fill="#3d3533" text-anchor="middle" textLength="39.0" lengthAdjust="spacingAndGlyphs">반려동물 수</text>
<text x="672.8" y="406.8" font-size="9.8" font-weight="400" fill="#3d3533" text-anchor="middle" textLength="20.3" lengthAdjust="spacingAndGlyphs">(천두)</text>
<rect x="783.1" y="625.8" width="6.5" height="11.7" fill="#d7001d"/>
<rect x="792.1" y="592.9" width="6.5" height="44.6" fill="#f39200"/>
<rect x="801.0" y="593.8" width="6.5" height="43.7" fill="#0a8cd2"/>
<rect x="809.8" y="601.6" width="6.5" height="35.9" fill="#00676f"/>
<rect x="818.8" y="630.0" width="6.5" height="7.5" fill="#b86a00"/>
<rect x="827.6" y="421.9" width="6.5" height="215.6" fill="#00a040"/>
<path d="M779.6,413.3 H776.2 V637.5 H840.1 v-4.6 M776.2,441.3 h3.4 M776.2,469.4 h3.4 M776.2,497.4 h3.4 M776.2,525.4 h3.4 M776.2,553.4 h3.4 M776.2,581.5 h3.4 M776.2,609.5 h3.4" fill="none" stroke="#7a7270" stroke-width="0.9"/>
<text x="771.4" y="418.3" font-size="11.0" font-weight="400" fill="#3d3533" text-anchor="end" textLength="16.9" lengthAdjust="spacingAndGlyphs">8,000</text>
<text x="771.4" y="446.3" font-size="11.0" font-weight="400" fill="#3d3533" text-anchor="end" textLength="16.9" lengthAdjust="spacingAndGlyphs">7,000</text>
<text x="771.4" y="474.4" font-size="11.0" font-weight="400" fill="#3d3533" text-anchor="end" textLength="16.9" lengthAdjust="spacingAndGlyphs">6,000</text>
<text x="771.4" y="502.4" font-size="11.0" font-weight="400" fill="#3d3533" text-anchor="end" textLength="16.9" lengthAdjust="spacingAndGlyphs">5,000</text>
<text x="771.4" y="530.4" font-size="11.0" font-weight="400" fill="#3d3533" text-anchor="end" textLength="16.9" lengthAdjust="spacingAndGlyphs">4,000</text>
<text x="771.4" y="558.4" font-size="11.0" font-weight="400" fill="#3d3533" text-anchor="end" textLength="16.9" lengthAdjust="spacingAndGlyphs">3,000</text>
<text x="771.4" y="586.5" font-size="11.0" font-weight="400" fill="#3d3533" text-anchor="end" textLength="16.9" lengthAdjust="spacingAndGlyphs">2,000</text>
<text x="771.4" y="614.5" font-size="11.0" font-weight="400" fill="#3d3533" text-anchor="end" textLength="16.9" lengthAdjust="spacingAndGlyphs">1,000</text>
<text x="807.2" y="649.3" font-size="9.8" font-weight="400" fill="#3d3533" text-anchor="middle" textLength="69.7" lengthAdjust="spacingAndGlyphs">수의사 1인당 가축단위</text>
<rect x="870.9" y="613.1" width="6.5" height="24.4" fill="#d7001d"/>
<rect x="879.9" y="514.0" width="6.5" height="123.5" fill="#f39200"/>
<rect x="888.7" y="454.8" width="6.5" height="182.7" fill="#0a8cd2"/>
<rect x="897.7" y="512.2" width="6.5" height="125.3" fill="#00676f"/>
<rect x="906.5" y="574.3" width="6.5" height="63.2" fill="#b86a00"/>
<rect x="915.4" y="458.5" width="6.5" height="179.0" fill="#00a040"/>
<path d="M867.4,413.3 H864.0 V637.5 H928.0 v-4.6 M864.0,469.4 h3.4 M864.0,525.4 h3.4 M864.0,581.5 h3.4" fill="none" stroke="#7a7270" stroke-width="0.9"/>
<text x="858.4" y="418.3" font-size="11.0" font-weight="400" fill="#3d3533" text-anchor="end" textLength="16.9" lengthAdjust="spacingAndGlyphs">2,000</text>
<text x="858.4" y="474.4" font-size="11.0" font-weight="400" fill="#3d3533" text-anchor="end" textLength="16.9" lengthAdjust="spacingAndGlyphs">1,500</text>
<text x="858.4" y="530.4" font-size="11.0" font-weight="400" fill="#3d3533" text-anchor="end" textLength="16.9" lengthAdjust="spacingAndGlyphs">1,000</text>
<text x="858.4" y="586.5" font-size="11.0" font-weight="400" fill="#3d3533" text-anchor="end" textLength="11.2" lengthAdjust="spacingAndGlyphs">500</text>
<text x="895.4" y="649.3" font-size="9.8" font-weight="400" fill="#3d3533" text-anchor="middle" textLength="77.4" lengthAdjust="spacingAndGlyphs">수의사 1인당 반려동물 수</text>
<rect x="627.2" y="660.6" width="12.1" height="12.1" fill="#d7001d"/>
<text x="641.6" y="671.7" font-size="13.4" font-weight="400" fill="#4a4341" text-anchor="start" textLength="19.3" lengthAdjust="spacingAndGlyphs">한국</text>
<rect x="669.1" y="660.6" width="12.1" height="12.1" fill="#f39200"/>
<text x="683.2" y="671.7" font-size="13.4" font-weight="400" fill="#4a4341" text-anchor="start" textLength="29.2" lengthAdjust="spacingAndGlyphs">캐나다</text>
<rect x="730.0" y="660.6" width="12.1" height="12.1" fill="#0a8cd2"/>
<text x="744.1" y="671.7" font-size="13.4" font-weight="400" fill="#4a4341" text-anchor="start" textLength="19.6" lengthAdjust="spacingAndGlyphs">미국</text>
<rect x="782.9" y="660.6" width="12.1" height="12.1" fill="#00676f"/>
<text x="797.4" y="671.7" font-size="13.4" font-weight="400" fill="#4a4341" text-anchor="start" textLength="19.9" lengthAdjust="spacingAndGlyphs">영국</text>
<rect x="835.5" y="660.6" width="12.1" height="12.1" fill="#b86a00"/>
<text x="850.0" y="671.7" font-size="13.4" font-weight="400" fill="#4a4341" text-anchor="start" textLength="19.5" lengthAdjust="spacingAndGlyphs">일본</text>
<rect x="892.9" y="660.6" width="12.1" height="12.1" fill="#00a040"/>
<text x="907.4" y="671.7" font-size="13.4" font-weight="400" fill="#4a4341" text-anchor="start" textLength="19.6" lengthAdjust="spacingAndGlyphs">호주</text>
<rect x="423.7" y="971.4" width="6.6" height="7.1" fill="#5b9bc0"/>
<rect x="433.2" y="974.6" width="6.6" height="3.9" fill="#f5b81c"/>
<rect x="442.8" y="949.0" width="6.6" height="29.5" fill="#3cb9c8"/>
<rect x="452.5" y="941.6" width="6.6" height="36.9" fill="#f39200"/>
<rect x="462.1" y="949.0" width="6.6" height="29.5" fill="#e4007f"/>
<rect x="471.6" y="949.0" width="7.4" height="29.5" fill="#a3368f"/>
<rect x="481.1" y="874.7" width="6.6" height="103.8" fill="#0a8cd2"/>
<rect x="490.9" y="964.1" width="6.6" height="14.4" fill="#00a040"/>
<rect x="500.4" y="874.7" width="6.6" height="103.8" fill="#a09600"/>
<rect x="509.9" y="755.5" width="6.6" height="223.0" fill="#b86a00"/>
<rect x="519.5" y="949.0" width="6.6" height="29.5" fill="#00676f"/>
<path d="M420.0,754.5 H416.6 V978.5 H532.7 v-4.6 M416.6,799.3 h3.4 M416.6,844.1 h3.4 M416.6,888.9 h3.4 M416.6,933.7 h3.4" fill="none" stroke="#7a7270" stroke-width="0.9"/>
<text x="411.3" y="759.5" font-size="11.0" font-weight="400" fill="#3d3533" text-anchor="end" textLength="24.1" lengthAdjust="spacingAndGlyphs">150,000</text>
<text x="411.3" y="804.3" font-size="11.0" font-weight="400" fill="#3d3533" text-anchor="end" textLength="24.1" lengthAdjust="spacingAndGlyphs">120,000</text>
<text x="411.3" y="849.1" font-size="11.0" font-weight="400" fill="#3d3533" text-anchor="end" textLength="20.4" lengthAdjust="spacingAndGlyphs">90,000</text>
<text x="411.3" y="893.9" font-size="11.0" font-weight="400" fill="#3d3533" text-anchor="end" textLength="20.4" lengthAdjust="spacingAndGlyphs">60,000</text>
<text x="411.3" y="938.7" font-size="11.0" font-weight="400" fill="#3d3533" text-anchor="end" textLength="20.4" lengthAdjust="spacingAndGlyphs">30,000</text>
<rect x="564.2" y="970.2" width="6.6" height="8.3" fill="#5b9bc0"/>
<rect x="573.7" y="967.8" width="6.6" height="10.7" fill="#f5b81c"/>
<rect x="583.5" y="961.4" width="6.6" height="17.1" fill="#3cb9c8"/>
<rect x="593.0" y="939.0" width="6.6" height="39.5" fill="#f39200"/>
<rect x="602.6" y="959.0" width="6.6" height="19.5" fill="#e4007f"/>
<rect x="612.1" y="962.9" width="6.6" height="15.6" fill="#a3368f"/>
<rect x="621.6" y="926.3" width="6.6" height="52.2" fill="#0a8cd2"/>
<rect x="631.4" y="949.0" width="6.6" height="29.5" fill="#00a040"/>
<rect x="640.9" y="828.5" width="6.6" height="150.0" fill="#a09600"/>
<rect x="650.4" y="778.5" width="6.6" height="200.0" fill="#b86a00"/>
<rect x="660.0" y="963.1" width="6.6" height="15.4" fill="#00676f"/>
<path d="M560.3,754.5 H556.9 V978.5 H672.7 v-4.6 M556.9,782.5 h3.4 M556.9,810.5 h3.4 M556.9,838.5 h3.4 M556.9,866.5 h3.4 M556.9,894.5 h3.4 M556.9,922.5 h3.4 M556.9,950.5 h3.4" fill="none" stroke="#7a7270" stroke-width="0.9"/>
<text x="551.8" y="759.5" font-size="11.0" font-weight="400" fill="#3d3533" text-anchor="end" textLength="24.1" lengthAdjust="spacingAndGlyphs">400,000</text>
<text x="551.8" y="787.5" font-size="11.0" font-weight="400" fill="#3d3533" text-anchor="end" textLength="24.1" lengthAdjust="spacingAndGlyphs">350,000</text>
<text x="551.8" y="815.5" font-size="11.0" font-weight="400" fill="#3d3533" text-anchor="end" textLength="24.1" lengthAdjust="spacingAndGlyphs">300,000</text>
<text x="551.8" y="843.5" font-size="11.0" font-weight="400" fill="#3d3533" text-anchor="end" textLength="24.1" lengthAdjust="spacingAndGlyphs">250,000</text>
<text x="551.8" y="871.5" font-size="11.0" font-weight="400" fill="#3d3533" text-anchor="end" textLength="24.1" lengthAdjust="spacingAndGlyphs">200,000</text>
<text x="551.8" y="899.5" font-size="11.0" font-weight="400" fill="#3d3533" text-anchor="end" textLength="24.1" lengthAdjust="spacingAndGlyphs">150,000</text>
<text x="551.8" y="927.5" font-size="11.0" font-weight="400" fill="#3d3533" text-anchor="end" textLength="24.1" lengthAdjust="spacingAndGlyphs">100,000</text>
<text x="551.8" y="955.5" font-size="11.0" font-weight="400" fill="#3d3533" text-anchor="end" textLength="20.4" lengthAdjust="spacingAndGlyphs">50,000</text>
<rect x="704.0" y="957.8" width="6.6" height="20.7" fill="#5b9bc0"/>
<rect x="713.5" y="954.3" width="6.6" height="24.2" fill="#f5b81c"/>
<rect x="723.0" y="961.2" width="6.6" height="17.3" fill="#e4007f"/>
<rect x="732.8" y="921.1" width="6.6" height="57.4" fill="#a3368f"/>
<rect x="742.3" y="921.1" width="6.6" height="57.4" fill="#0a8cd2"/>
<rect x="751.8" y="951.2" width="6.6" height="27.3" fill="#00a040"/>
<rect x="761.4" y="901.1" width="6.6" height="77.4" fill="#a09600"/>
<rect x="770.9" y="771.2" width="6.6" height="207.3" fill="#b86a00"/>
<rect x="780.4" y="954.3" width="6.6" height="24.2" fill="#00676f"/>
<path d="M700.3,754.5 H696.9 V978.5 H792.6 v-4.6 M696.9,782.5 h3.4 M696.9,810.5 h3.4 M696.9,838.5 h3.4 M696.9,866.5 h3.4 M696.9,894.5 h3.4 M696.9,922.5 h3.4 M696.9,950.5 h3.4" fill="none" stroke="#7a7270" stroke-width="0.9"/>
<text x="691.8" y="759.5" font-size="11.0" font-weight="400" fill="#3d3533" text-anchor="end" textLength="24.1" lengthAdjust="spacingAndGlyphs">400,000</text>
<text x="691.8" y="787.5" font-size="11.0" font-weight="400" fill="#3d3533" text-anchor="end" textLength="24.1" lengthAdjust="spacingAndGlyphs">350,000</text>
<text x="691.8" y="815.5" font-size="11.0" font-weight="400" fill="#3d3533" text-anchor="end" textLength="24.1" lengthAdjust="spacingAndGlyphs">300,000</text>
<text x="691.8" y="843.5" font-size="11.0" font-weight="400" fill="#3d3533" text-anchor="end" textLength="24.1" lengthAdjust="spacingAndGlyphs">250,000</text>
<text x="691.8" y="871.5" font-size="11.0" font-weight="400" fill="#3d3533" text-anchor="end" textLength="24.1" lengthAdjust="spacingAndGlyphs">200,000</text>
<text x="691.8" y="899.5" font-size="11.0" font-weight="400" fill="#3d3533" text-anchor="end" textLength="24.1" lengthAdjust="spacingAndGlyphs">150,000</text>
<text x="691.8" y="927.5" font-size="11.0" font-weight="400" fill="#3d3533" text-anchor="end" textLength="24.1" lengthAdjust="spacingAndGlyphs">100,000</text>
<text x="691.8" y="955.5" font-size="11.0" font-weight="400" fill="#3d3533" text-anchor="end" textLength="20.4" lengthAdjust="spacingAndGlyphs">50,000</text>
<rect x="823.2" y="936.5" width="6.6" height="42.0" fill="#5b9bc0"/>
<rect x="832.8" y="958.0" width="6.6" height="20.5" fill="#f5b81c"/>
<rect x="842.3" y="937.5" width="6.6" height="41.0" fill="#3cb9c8"/>
<rect x="852.1" y="938.2" width="6.6" height="40.3" fill="#f39200"/>
<rect x="861.6" y="911.6" width="6.6" height="66.9" fill="#e4007f"/>
<rect x="871.1" y="898.2" width="6.6" height="80.3" fill="#a3368f"/>
<rect x="880.6" y="798.5" width="6.6" height="180.0" fill="#0a8cd2"/>
<rect x="890.4" y="871.8" width="6.6" height="106.7" fill="#00a040"/>
<rect x="899.9" y="807.8" width="6.6" height="170.7" fill="#a09600"/>
<rect x="909.5" y="782.9" width="6.6" height="195.6" fill="#b86a00"/>
<rect x="919.0" y="918.7" width="6.6" height="59.8" fill="#00676f"/>
<path d="M819.1,754.5 H815.7 V978.5 H931.4 v-4.6 M815.7,810.5 h3.4 M815.7,866.5 h3.4 M815.7,922.5 h3.4" fill="none" stroke="#7a7270" stroke-width="0.9"/>
<text x="810.5" y="759.5" font-size="11.0" font-weight="400" fill="#3d3533" text-anchor="end" textLength="24.1" lengthAdjust="spacingAndGlyphs">200,000</text>
<text x="810.5" y="815.5" font-size="11.0" font-weight="400" fill="#3d3533" text-anchor="end" textLength="24.1" lengthAdjust="spacingAndGlyphs">150,000</text>
<text x="810.5" y="871.5" font-size="11.0" font-weight="400" fill="#3d3533" text-anchor="end" textLength="24.1" lengthAdjust="spacingAndGlyphs">100,000</text>
<text x="810.5" y="927.5" font-size="11.0" font-weight="400" fill="#3d3533" text-anchor="end" textLength="20.4" lengthAdjust="spacingAndGlyphs">50,000</text>
<rect x="416.0" y="991.7" width="12.2" height="12.2" fill="#5b9bc0"/>
<text x="430.6" y="1003.1" font-size="13.6" font-weight="400" fill="#4a4341" text-anchor="start" textLength="28.6" lengthAdjust="spacingAndGlyphs">초진비</text>
<rect x="471.4" y="991.7" width="12.2" height="12.2" fill="#f5b81c"/>
<text x="486.0" y="1003.1" font-size="13.6" font-weight="400" fill="#4a4341" text-anchor="start" textLength="28.3" lengthAdjust="spacingAndGlyphs">주사비</text>
<rect x="526.0" y="991.7" width="12.2" height="12.2" fill="#3cb9c8"/>
<text x="540.6" y="1003.1" font-size="13.6" font-weight="400" fill="#4a4341" text-anchor="start" textLength="57.7" lengthAdjust="spacingAndGlyphs">광견병접종비</text>
<rect x="610.0" y="991.7" width="12.2" height="12.2" fill="#f39200"/>
<text x="624.6" y="1003.1" font-size="13.6" font-weight="400" fill="#4a4341" text-anchor="start" textLength="35.0" lengthAdjust="spacingAndGlyphs">5종백신</text>
<rect x="671.7" y="991.7" width="12.2" height="12.2" fill="#e4007f"/>
<text x="686.2" y="1003.1" font-size="13.6" font-weight="400" fill="#4a4341" text-anchor="start" textLength="94.2" lengthAdjust="spacingAndGlyphs">혈액검사비(혈구검사)</text>
<rect x="791.2" y="991.7" width="12.2" height="12.2" fill="#a3368f"/>
<text x="805.8" y="1003.1" font-size="13.6" font-weight="400" fill="#4a4341" text-anchor="start" textLength="47.6" lengthAdjust="spacingAndGlyphs">정액마취비</text>
<rect x="865.0" y="991.7" width="12.2" height="12.2" fill="#0a8cd2"/>
<text x="879.6" y="1003.1" font-size="13.6" font-weight="400" fill="#4a4341" text-anchor="start" textLength="48.1" lengthAdjust="spacingAndGlyphs">호흡마취비</text>
<rect x="416.0" y="1007.8" width="12.2" height="12.2" fill="#00a040"/>
<text x="430.6" y="1019.2" font-size="13.6" font-weight="400" fill="#4a4341" text-anchor="start" textLength="81.1" lengthAdjust="spacingAndGlyphs">엑스레이(1부위당)</text>
<rect x="526.0" y="1007.8" width="12.2" height="12.2" fill="#a09600"/>
<text x="540.6" y="1019.2" font-size="13.6" font-weight="400" fill="#4a4341" text-anchor="start" textLength="118.4" lengthAdjust="spacingAndGlyphs">중성화수술비(기술료)-수컷</text>
<rect x="671.7" y="1007.8" width="12.2" height="12.2" fill="#b86a00"/>
<text x="686.2" y="1019.2" font-size="13.6" font-weight="400" fill="#4a4341" text-anchor="start" textLength="118.8" lengthAdjust="spacingAndGlyphs">중성화수술비(기술료)-암컷</text>
<rect x="865.0" y="1007.8" width="12.2" height="12.2" fill="#00676f"/>
<text x="879.6" y="1019.2" font-size="13.6" font-weight="400" fill="#4a4341" text-anchor="start" textLength="29.8" lengthAdjust="spacingAndGlyphs">입원료</text>
<text x="759.2" y="1038.7" font-size="10.2" font-weight="400" fill="#3d3533" text-anchor="start" textLength="172.6" lengthAdjust="spacingAndGlyphs">※ 환율계산 : 1엔X1000, 1유X1383, 1달러X1000</text>
<rect x="155.7" y="950.9" width="204.7" height="17.2" fill="#dadada"/>
<path d="M155.7,761.8 H360.4 M155.7,779.0 H360.4 M155.7,796.2 H360.4 M155.7,813.4 H360.4 M155.7,830.6 H360.4 M155.7,847.8 H360.4 M155.7,864.9 H360.4 M155.7,882.1 H360.4 M155.7,899.3 H360.4 M155.7,916.5 H360.4 M155.7,933.7 H360.4 M155.7,950.9 H360.4 M155.7,968.1 H360.4 " stroke="#8f8a88" stroke-width="0.9" fill="none"/>
<path d="M155.7,761.2 H360.4" stroke="#aaa6a4" stroke-width="1.4" fill="none"/>
<text x="154.9" y="774.6" font-size="10.8" font-weight="400" fill="#3d3533" text-anchor="start" textLength="9.3" lengthAdjust="spacingAndGlyphs">①</text>
<text x="165.6" y="774.4" font-size="10.6" font-weight="400" fill="#3d3533" text-anchor="start" textLength="31.4" lengthAdjust="spacingAndGlyphs">방사선과</text>
<text x="301.7" y="774.4" font-size="10.6" font-weight="400" fill="#3d3533" text-anchor="end" textLength="51.0" lengthAdjust="spacingAndGlyphs">13억2700만원</text>
<text x="360.4" y="774.4" font-size="10.6" font-weight="400" fill="#3d3533" text-anchor="end" textLength="2.9" lengthAdjust="spacingAndGlyphs">)</text>
<text x="346.1" y="774.3" font-size="15.4" fill="#1d1715">▲</text>
<text x="349.0" y="774.4" font-size="10.6" font-weight="400" fill="#3d3533" text-anchor="end" textLength="30.6" lengthAdjust="spacingAndGlyphs">(45.34%</text>
<text x="154.9" y="791.7" font-size="10.8" font-weight="400" fill="#3d3533" text-anchor="start" textLength="9.3" lengthAdjust="spacingAndGlyphs">②</text>
<text x="165.6" y="791.6" font-size="10.6" font-weight="400" fill="#3d3533" text-anchor="start" textLength="15.4" lengthAdjust="spacingAndGlyphs">안과</text>
<text x="301.7" y="791.6" font-size="10.6" font-weight="400" fill="#3d3533" text-anchor="end" textLength="46.5" lengthAdjust="spacingAndGlyphs">9억9200만원</text>
<text x="360.4" y="791.6" font-size="10.6" font-weight="400" fill="#3d3533" text-anchor="end" textLength="2.9" lengthAdjust="spacingAndGlyphs">)</text>
<text x="346.1" y="791.5" font-size="15.4" fill="#1d1715">▲</text>
<text x="349.0" y="791.6" font-size="10.6" font-weight="400" fill="#3d3533" text-anchor="end" textLength="30.6" lengthAdjust="spacingAndGlyphs">(36.26%</text>
<text x="154.9" y="808.9" font-size="10.8" font-weight="400" fill="#3d3533" text-anchor="start" textLength="9.3" lengthAdjust="spacingAndGlyphs">③</text>
<text x="165.6" y="808.8" font-size="10.6" font-weight="400" fill="#3d3533" text-anchor="start" textLength="64.5" lengthAdjust="spacingAndGlyphs">일반외과·정형외과</text>
<text x="301.7" y="808.8" font-size="10.6" font-weight="400" fill="#3d3533" text-anchor="end" textLength="46.5" lengthAdjust="spacingAndGlyphs">9억3000만원</text>
<text x="360.4" y="808.8" font-size="10.6" font-weight="400" fill="#3d3533" text-anchor="end" textLength="2.9" lengthAdjust="spacingAndGlyphs">)</text>
<text x="346.1" y="808.7" font-size="15.4" fill="#1d1715">▲</text>
<text x="349.0" y="808.8" font-size="10.6" font-weight="400" fill="#3d3533" text-anchor="end" textLength="30.6" lengthAdjust="spacingAndGlyphs">(37.57%</text>
<text x="154.9" y="826.1" font-size="10.8" font-weight="400" fill="#3d3533" text-anchor="start" textLength="9.3" lengthAdjust="spacingAndGlyphs">④</text>
<text x="165.6" y="825.9" font-size="10.6" font-weight="400" fill="#3d3533" text-anchor="start" textLength="31.2" lengthAdjust="spacingAndGlyphs">산부인과</text>
<text x="301.7" y="825.9" font-size="10.6" font-weight="400" fill="#3d3533" text-anchor="end" textLength="42.1" lengthAdjust="spacingAndGlyphs">9억600만원</text>
<text x="360.4" y="825.9" font-size="10.6" font-weight="400" fill="#3d3533" text-anchor="end" textLength="2.9" lengthAdjust="spacingAndGlyphs">)</text>
<text x="346.1" y="825.9" font-size="15.4" fill="#1d1715">▲</text>
<text x="349.0" y="825.9" font-size="10.6" font-weight="400" fill="#3d3533" text-anchor="end" textLength="30.6" lengthAdjust="spacingAndGlyphs">(49.75%</text>
<text x="154.9" y="843.3" font-size="10.8" font-weight="400" fill="#3d3533" text-anchor="start" textLength="9.3" lengthAdjust="spacingAndGlyphs">⑤</text>
<text x="165.6" y="843.1" font-size="10.6" font-weight="400" fill="#3d3533" text-anchor="start" textLength="38.8" lengthAdjust="spacingAndGlyphs">신경정신과</text>
<text x="301.7" y="843.1" font-size="10.6" font-weight="400" fill="#3d3533" text-anchor="end" textLength="46.5" lengthAdjust="spacingAndGlyphs">7억1000만원</text>
<text x="360.4" y="843.1" font-size="10.6" font-weight="400" fill="#3d3533" text-anchor="end" textLength="2.9" lengthAdjust="spacingAndGlyphs">)</text>
<text x="346.1" y="843.1" font-size="15.4" fill="#1d1715">▲</text>
<text x="349.0" y="843.1" font-size="10.6" font-weight="400" fill="#3d3533" text-anchor="end" textLength="30.6" lengthAdjust="spacingAndGlyphs">(32.71%</text>
<text x="154.9" y="860.5" font-size="10.8" font-weight="400" fill="#3d3533" text-anchor="start" textLength="9.3" lengthAdjust="spacingAndGlyphs">⑥</text>
<text x="165.6" y="860.3" font-size="10.6" font-weight="400" fill="#3d3533" text-anchor="start" textLength="46.0" lengthAdjust="spacingAndGlyphs">피부비뇨기과</text>
<text x="301.7" y="860.3" font-size="10.6" font-weight="400" fill="#3d3533" text-anchor="end" textLength="46.5" lengthAdjust="spacingAndGlyphs">5억3900만원</text>
<text x="360.4" y="860.3" font-size="10.6" font-weight="400" fill="#3d3533" text-anchor="end" textLength="2.9" lengthAdjust="spacingAndGlyphs">)</text>
<text x="346.1" y="860.2" font-size="15.4" fill="#1d1715">▲</text>
<text x="349.0" y="860.3" font-size="10.6" font-weight="400" fill="#3d3533" text-anchor="end" textLength="30.6" lengthAdjust="spacingAndGlyphs">(19.77%</text>
<text x="154.9" y="877.7" font-size="10.8" font-weight="400" fill="#3d3533" text-anchor="start" textLength="9.3" lengthAdjust="spacingAndGlyphs">⑦</text>
<text x="165.6" y="877.5" font-size="10.6" font-weight="400" fill="#3d3533" text-anchor="start" textLength="57.0" lengthAdjust="spacingAndGlyphs">일반내과·소아과</text>
<text x="301.7" y="877.5" font-size="10.6" font-weight="400" fill="#3d3533" text-anchor="end" textLength="46.5" lengthAdjust="spacingAndGlyphs">5억2400만원</text>
<text x="360.4" y="877.5" font-size="10.6" font-weight="400" fill="#3d3533" text-anchor="end" textLength="2.9" lengthAdjust="spacingAndGlyphs">)</text>
<text x="346.1" y="877.4" font-size="15.4" fill="#1d1715">▲</text>
<text x="349.0" y="877.5" font-size="10.6" font-weight="400" fill="#3d3533" text-anchor="end" textLength="30.6" lengthAdjust="spacingAndGlyphs">(34.01%</text>
<text x="154.9" y="894.9" font-size="10.8" font-weight="400" fill="#3d3533" text-anchor="start" textLength="9.3" lengthAdjust="spacingAndGlyphs">⑧</text>
<text x="165.6" y="894.7" font-size="10.6" font-weight="400" fill="#3d3533" text-anchor="start" textLength="38.5" lengthAdjust="spacingAndGlyphs">이비인후과</text>
<text x="301.7" y="894.7" font-size="10.6" font-weight="400" fill="#3d3533" text-anchor="end" textLength="46.5" lengthAdjust="spacingAndGlyphs">4억5000만원</text>
<text x="360.4" y="894.7" font-size="10.6" font-weight="400" fill="#3d3533" text-anchor="end" textLength="2.9" lengthAdjust="spacingAndGlyphs">)</text>
<text x="346.1" y="894.6" font-size="15.4" fill="#1d1715">▲</text>
<text x="349.0" y="894.7" font-size="10.6" font-weight="400" fill="#3d3533" text-anchor="end" textLength="30.6" lengthAdjust="spacingAndGlyphs">(20.32%</text>
<text x="154.9" y="912.1" font-size="10.8" font-weight="400" fill="#3d3533" text-anchor="start" textLength="9.3" lengthAdjust="spacingAndGlyphs">⑨</text>
<text x="165.6" y="911.9" font-size="10.6" font-weight="400" fill="#3d3533" text-anchor="start" textLength="15.0" lengthAdjust="spacingAndGlyphs">치과</text>
<text x="301.7" y="911.9" font-size="10.6" font-weight="400" fill="#3d3533" text-anchor="end" textLength="46.5" lengthAdjust="spacingAndGlyphs">4억4600만원</text>
<text x="360.4" y="911.9" font-size="10.6" font-weight="400" fill="#3d3533" text-anchor="end" textLength="2.9" lengthAdjust="spacingAndGlyphs">)</text>
<text x="346.1" y="911.8" font-size="15.4" fill="#1d1715">▲</text>
<text x="349.0" y="911.9" font-size="10.6" font-weight="400" fill="#3d3533" text-anchor="end" textLength="30.6" lengthAdjust="spacingAndGlyphs">(14.94%</text>
<text x="154.9" y="929.3" font-size="10.8" font-weight="400" fill="#3d3533" text-anchor="start" textLength="9.3" lengthAdjust="spacingAndGlyphs">⑩</text>
<text x="165.6" y="929.1" font-size="10.6" font-weight="400" fill="#3d3533" text-anchor="start" textLength="31.2" lengthAdjust="spacingAndGlyphs">성형외과</text>
<text x="301.7" y="929.1" font-size="10.6" font-weight="400" fill="#3d3533" text-anchor="end" textLength="46.5" lengthAdjust="spacingAndGlyphs">4억2000만원</text>
<text x="360.4" y="929.1" font-size="10.6" font-weight="400" fill="#3d3533" text-anchor="end" textLength="2.9" lengthAdjust="spacingAndGlyphs">)</text>
<text x="346.1" y="929.0" font-size="15.4" fill="#1d1715">▲</text>
<text x="349.0" y="929.1" font-size="10.6" font-weight="400" fill="#3d3533" text-anchor="end" textLength="26.1" lengthAdjust="spacingAndGlyphs">(7.41%</text>
<text x="154.9" y="946.5" font-size="10.8" font-weight="400" fill="#3d3533" text-anchor="start" textLength="9.3" lengthAdjust="spacingAndGlyphs">⑪</text>
<text x="165.6" y="946.3" font-size="10.6" font-weight="400" fill="#3d3533" text-anchor="start" textLength="22.6" lengthAdjust="spacingAndGlyphs">한의원</text>
<text x="301.7" y="946.3" font-size="10.6" font-weight="400" fill="#3d3533" text-anchor="end" textLength="46.5" lengthAdjust="spacingAndGlyphs">2억7900만원</text>
<text x="360.4" y="946.3" font-size="10.6" font-weight="400" fill="#3d3533" text-anchor="end" textLength="2.9" lengthAdjust="spacingAndGlyphs">)</text>
<text x="346.1" y="946.2" font-size="15.4" fill="#1d1715">▲</text>
<text x="349.0" y="946.3" font-size="10.6" font-weight="400" fill="#3d3533" text-anchor="end" textLength="30.6" lengthAdjust="spacingAndGlyphs">(19.23%</text>
<text x="154.9" y="963.6" font-size="10.8" font-weight="400" fill="#3d3533" text-anchor="start" textLength="9.3" lengthAdjust="spacingAndGlyphs">⑫</text>
<text x="165.6" y="963.5" font-size="10.6" font-weight="700" fill="#3d3533" text-anchor="start" textLength="22.8" lengthAdjust="spacingAndGlyphs">수의업</text>
<text x="301.7" y="963.5" font-size="10.6" font-weight="700" fill="#3d3533" text-anchor="end" textLength="34.0" lengthAdjust="spacingAndGlyphs">6800만원</text>
<text x="360.4" y="963.5" font-size="10.6" font-weight="700" fill="#3d3533" text-anchor="end" textLength="2.9" lengthAdjust="spacingAndGlyphs">)</text>
<text x="346.1" y="963.4" font-size="15.4" fill="#1d1715">▲</text>
<text x="349.0" y="963.5" font-size="10.6" font-weight="700" fill="#3d3533" text-anchor="end" textLength="30.6" lengthAdjust="spacingAndGlyphs">(17.24%</text>
<text x="361.3" y="755.0" font-size="9.8" font-weight="400" fill="#3d3533" text-anchor="end" textLength="86.5" lengthAdjust="spacingAndGlyphs">(괄호 안은 5년 새 증가율)</text>
<g fill="none" stroke="#6a6462" stroke-width="0.65">
<path d="M38.6,822.0 L122.9,770.5 L147.5,770.5"/>
<path d="M38.6,856.5 L122.9,812.2 L147.5,787.7"/>
<path d="M38.6,868.9 L122.9,825.6 L147.5,804.9"/>
<path d="M38.6,884.4 L122.9,831.7 L147.5,822.1"/>
<path d="M38.6,899.1 L122.9,864.5 L147.5,839.3"/>
<path d="M38.6,906.7 L122.9,880.8 L147.5,856.5"/>
<path d="M38.6,913.6 L122.9,887.2 L147.5,873.6"/>
<path d="M38.6,924.6 L122.9,900.2 L147.5,890.8"/>
<path d="M38.6,929.0 L122.9,906.0 L147.5,908.0"/>
<path d="M38.6,929.4 L122.9,912.5 L147.5,925.2"/>
<path d="M38.6,929.8 L122.9,929.4 L147.5,942.4"/>
<path d="M38.6,957.9 L122.9,959.2 L147.5,959.6"/>
</g>
<g fill="#fff" stroke="#9b9b9b" stroke-width="2.7">
<circle cx="38.6" cy="822.0" r="4.25"/>
<circle cx="38.6" cy="856.5" r="4.25"/>
<circle cx="38.6" cy="868.9" r="4.25"/>
<circle cx="38.6" cy="884.4" r="4.25"/>
<circle cx="38.6" cy="899.1" r="4.25"/>
<circle cx="38.6" cy="906.7" r="4.25"/>
<circle cx="38.6" cy="913.6" r="4.25"/>
<circle cx="38.6" cy="924.6" r="4.25"/>
<circle cx="38.6" cy="929.4" r="4.25"/>
<circle cx="38.6" cy="957.9" r="4.25"/>
</g>
<g fill="#fff" stroke="#3b96bd" stroke-width="2.8">
<circle cx="122.9" cy="770.5" r="4.4"/>
<circle cx="122.9" cy="812.2" r="4.4"/>
<circle cx="122.9" cy="825.6" r="4.4"/>
<circle cx="122.9" cy="831.7" r="4.4"/>
<circle cx="122.9" cy="864.5" r="4.4"/>
<circle cx="122.9" cy="880.8" r="4.4"/>
<circle cx="122.9" cy="887.2" r="4.4"/>
<circle cx="122.9" cy="900.2" r="4.4"/>
<circle cx="122.9" cy="906.0" r="4.4"/>
<circle cx="122.9" cy="912.5" r="4.4"/>
<circle cx="122.9" cy="929.4" r="4.4"/>
<circle cx="122.9" cy="959.2" r="4.4"/>
</g>
<rect x="428.4" y="748.9" width="43.8" height="28.8" fill="#fff" stroke="#dcdcdc" stroke-width="0.6"/>
<g transform="translate(450.3,763.3)">
<g transform="rotate(33.7)"><path d="M-7.2,0 A7.2,7.2 0 0 1 7.2,0 Z" fill="#cd2e3a"/><path d="M-7.2,0 A7.2,7.2 0 0 0 7.2,0 Z" fill="#0047a0"/><circle cx="-3.6" cy="0" r="3.6" fill="#cd2e3a"/><circle cx="3.6" cy="0" r="3.6" fill="#0047a0"/></g>
<g transform="rotate(33.7)" fill="#2b2422"><rect x="10.2" y="-3.6" width="1.5" height="7.2"/><rect x="12.4" y="-3.6" width="1.5" height="7.2"/><rect x="14.6" y="-3.6" width="1.5" height="7.2"/></g>
<g transform="rotate(146.3)" fill="#2b2422"><rect x="10.2" y="-3.6" width="1.5" height="7.2"/><rect x="12.4" y="-3.6" width="1.5" height="7.2"/><rect x="14.6" y="-3.6" width="1.5" height="7.2"/></g>
<g transform="rotate(213.7)" fill="#2b2422"><rect x="10.2" y="-3.6" width="1.5" height="7.2"/><rect x="12.4" y="-3.6" width="1.5" height="7.2"/><rect x="14.6" y="-3.6" width="1.5" height="7.2"/></g>
<g transform="rotate(326.3)" fill="#2b2422"><rect x="10.2" y="-3.6" width="1.5" height="7.2"/><rect x="12.4" y="-3.6" width="1.5" height="7.2"/><rect x="14.6" y="-3.6" width="1.5" height="7.2"/></g>
</g>
<rect x="568.4" y="748.9" width="43.8" height="28.8" fill="#fff" stroke="#dcdcdc" stroke-width="0.6"/>
<circle cx="590.3" cy="763.3" r="8.7" fill="#be0f26"/>
<rect x="708.1" y="748.9" width="43.8" height="9.7" fill="#0a0a0a"/><rect x="708.1" y="758.6" width="43.8" height="9.7" fill="#dd0a14"/><rect x="708.1" y="768.3" width="43.8" height="9.4" fill="#f5e020"/>
<rect x="826.7" y="748.9" width="43.8" height="28.8" fill="#fff"/>
<rect x="826.7" y="748.90" width="43.8" height="2.22" fill="#bf0a30"/>
<rect x="826.7" y="753.33" width="43.8" height="2.22" fill="#bf0a30"/>
<rect x="826.7" y="757.76" width="43.8" height="2.22" fill="#bf0a30"/>
<rect x="826.7" y="762.19" width="43.8" height="2.22" fill="#bf0a30"/>
<rect x="826.7" y="766.62" width="43.8" height="2.22" fill="#bf0a30"/>
<rect x="826.7" y="771.05" width="43.8" height="2.22" fill="#bf0a30"/>
<rect x="826.7" y="775.48" width="43.8" height="2.22" fill="#bf0a30"/>
<rect x="826.7" y="748.9" width="17.4" height="15.51" fill="#1d2a6b"/>
<path d="M827.70,749.76h0.9M830.60,749.76h0.9M833.50,749.76h0.9M836.40,749.76h0.9M839.30,749.76h0.9M842.20,749.76h0.9M829.15,751.48h0.9M832.05,751.48h0.9M834.95,751.48h0.9M837.85,751.48h0.9M840.75,751.48h0.9M827.70,753.20h0.9M830.60,753.20h0.9M833.50,753.20h0.9M836.40,753.20h0.9M839.30,753.20h0.9M842.20,753.20h0.9M829.15,754.92h0.9M832.05,754.92h0.9M834.95,754.92h0.9M837.85,754.92h0.9M840.75,754.92h0.9M827.70,756.64h0.9M830.60,756.64h0.9M833.50,756.64h0.9M836.40,756.64h0.9M839.30,756.64h0.9M842.20,756.64h0.9M829.15,758.36h0.9M832.05,758.36h0.9M834.95,758.36h0.9M837.85,758.36h0.9M840.75,758.36h0.9M827.70,760.08h0.9M830.60,760.08h0.9M833.50,760.08h0.9M836.40,760.08h0.9M839.30,760.08h0.9M842.20,760.08h0.9M829.15,761.80h0.9M832.05,761.80h0.9M834.95,761.80h0.9M837.85,761.80h0.9M840.75,761.80h0.9M827.70,763.52h0.9M830.60,763.52h0.9M833.50,763.52h0.9M836.40,763.52h0.9M839.30,763.52h0.9M842.20,763.52h0.9" stroke="#e2e5f0" stroke-width="0.85" fill="none"/>
</svg>
</body></html>
